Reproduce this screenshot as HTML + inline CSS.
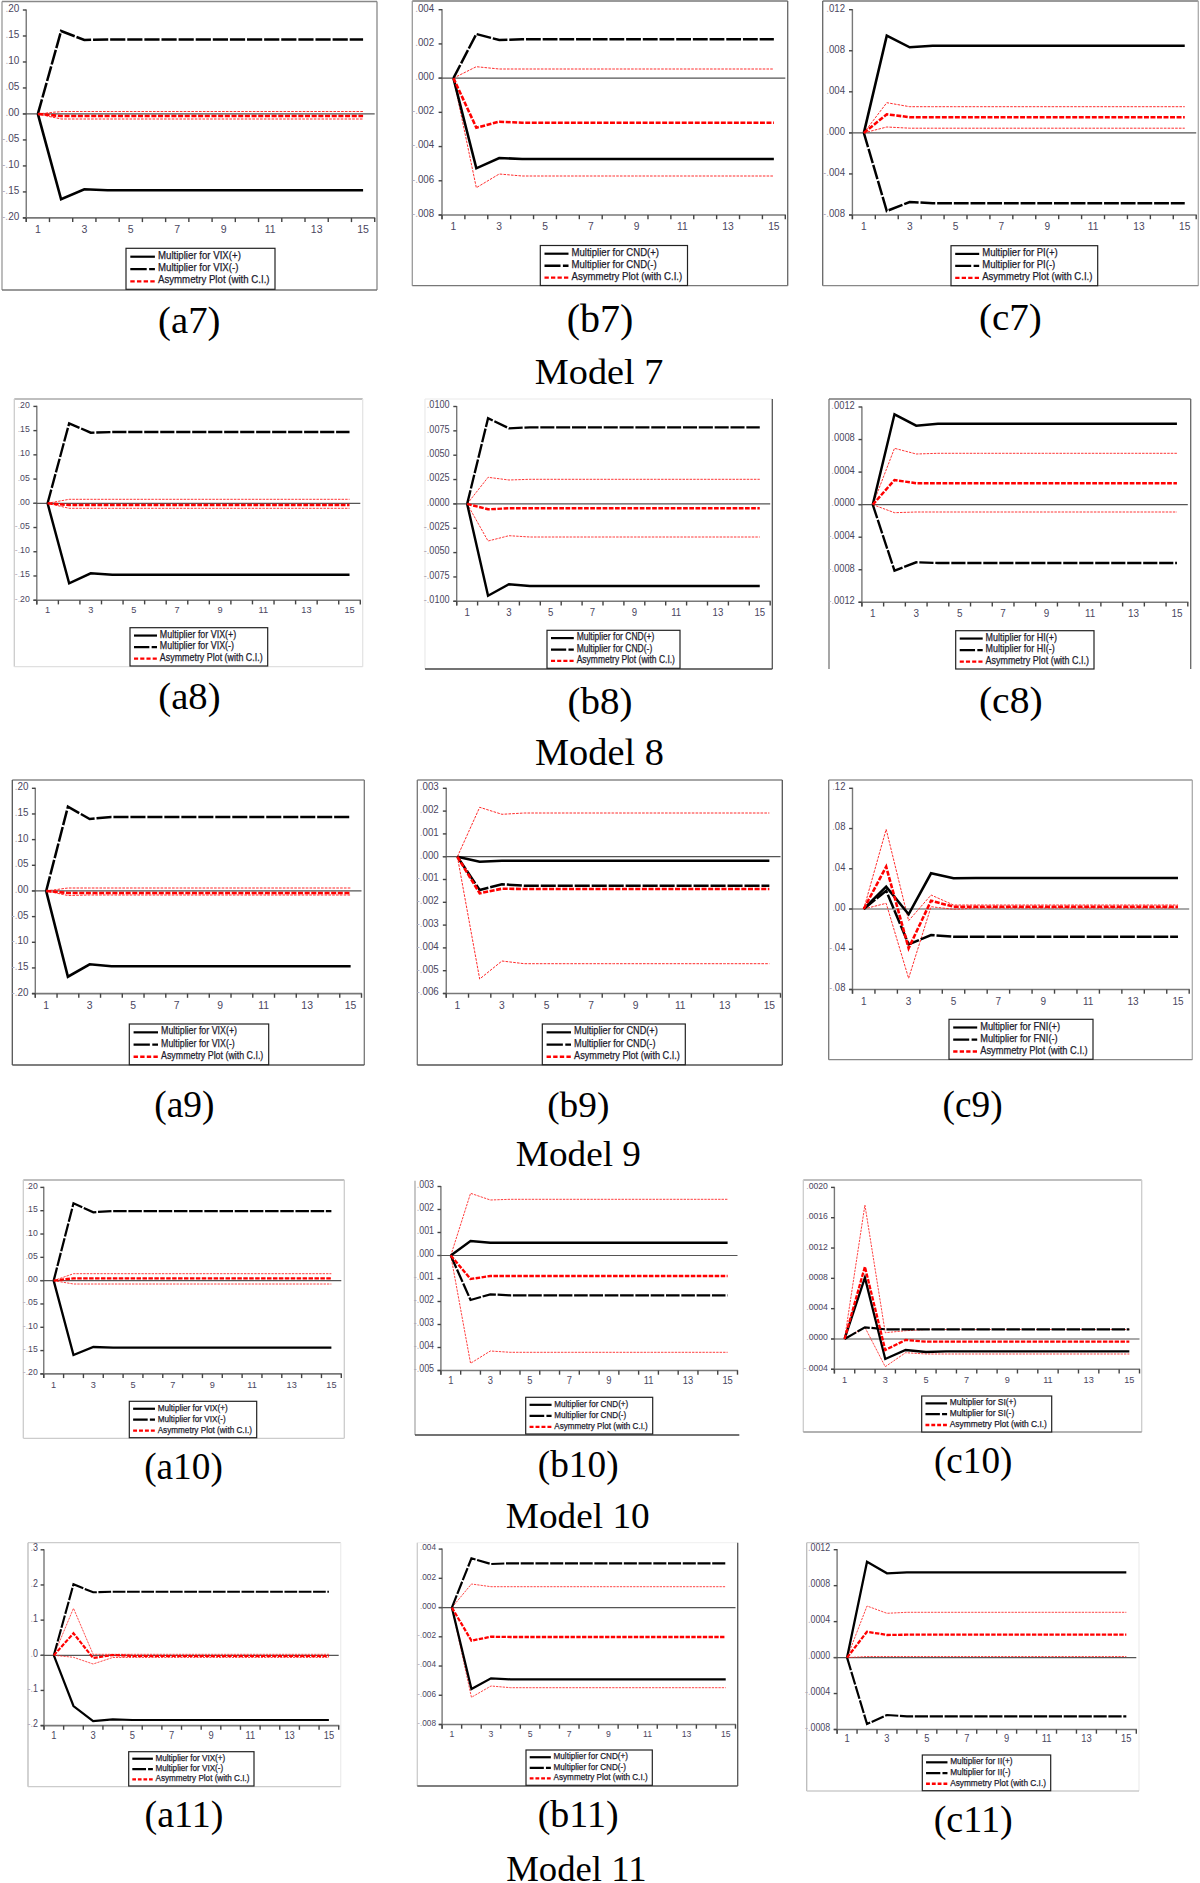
<!DOCTYPE html>
<html><head><meta charset="utf-8"><title>Asymmetry plots</title>
<style>
html,body{margin:0;padding:0;background:#fff;}
body{width:1200px;height:1883px;overflow:hidden;}
svg{display:block;}
.yl{font-family:"Liberation Sans",sans-serif;font-size:11.2px;fill:#4a4660;text-anchor:end;}
.xl{font-family:"Liberation Sans",sans-serif;font-size:11.2px;fill:#4a4660;text-anchor:middle;}
.lf{fill:#b0aab8;}
.lg{font-family:"Liberation Sans",sans-serif;fill:#1c1a2c;stroke:#1c1a2c;stroke-width:0.25px;}
.cap{font-family:"Liberation Serif",serif;font-size:37.5px;fill:#000;text-anchor:middle;}
</style></head>
<body>
<svg width="1200" height="1883" viewBox="0 0 1200 1883">
<rect width="1200" height="1883" fill="#fff"/>
<g id="a7">
<line x1="2" y1="1.5" x2="377" y2="1.5" stroke="#888" stroke-width="1.3"/>
<line x1="2" y1="1.5" x2="2" y2="290" stroke="#999" stroke-width="1.3"/>
<line x1="377" y1="1.5" x2="377" y2="290" stroke="#888" stroke-width="1.3"/>
<line x1="2" y1="290" x2="377" y2="290" stroke="#777" stroke-width="1.3"/>
<line x1="26.25" y1="9.4" x2="26.25" y2="222.1" stroke="#787878" stroke-width="1.4"/>
<line x1="22.85" y1="217.9" x2="375.3" y2="217.9" stroke="#787878" stroke-width="1.6"/>
<line x1="22.85" y1="10" x2="26.25" y2="10" stroke="#444444" stroke-width="1.4"/>
<text transform="translate(19.25 12) scale(0.88 1)" class="yl" style="font-size:11.348px"><tspan class="lf">.</tspan>20</text>
<line x1="22.85" y1="35.987" x2="26.25" y2="35.987" stroke="#444444" stroke-width="1.4"/>
<text transform="translate(19.25 37.987) scale(0.88 1)" class="yl" style="font-size:11.348px"><tspan class="lf">.</tspan>15</text>
<line x1="22.85" y1="61.975" x2="26.25" y2="61.975" stroke="#444444" stroke-width="1.4"/>
<text transform="translate(19.25 63.975) scale(0.88 1)" class="yl" style="font-size:11.348px"><tspan class="lf">.</tspan>10</text>
<line x1="22.85" y1="87.963" x2="26.25" y2="87.963" stroke="#444444" stroke-width="1.4"/>
<text transform="translate(19.25 89.963) scale(0.88 1)" class="yl" style="font-size:11.348px"><tspan class="lf">.</tspan>05</text>
<line x1="22.85" y1="113.95" x2="26.25" y2="113.95" stroke="#444444" stroke-width="1.4"/>
<text transform="translate(19.25 115.95) scale(0.88 1)" class="yl" style="font-size:11.348px"><tspan class="lf">.</tspan>00</text>
<line x1="22.85" y1="139.938" x2="26.25" y2="139.938" stroke="#444444" stroke-width="1.4"/>
<text transform="translate(19.25 141.938) scale(0.88 1)" class="yl" style="font-size:11.348px"><tspan class="lf">-.</tspan>05</text>
<line x1="22.85" y1="165.925" x2="26.25" y2="165.925" stroke="#444444" stroke-width="1.4"/>
<text transform="translate(19.25 167.925) scale(0.88 1)" class="yl" style="font-size:11.348px"><tspan class="lf">-.</tspan>10</text>
<line x1="22.85" y1="191.912" x2="26.25" y2="191.912" stroke="#444444" stroke-width="1.4"/>
<text transform="translate(19.25 193.912) scale(0.88 1)" class="yl" style="font-size:11.348px"><tspan class="lf">-.</tspan>15</text>
<line x1="22.85" y1="217.9" x2="26.25" y2="217.9" stroke="#444444" stroke-width="1.4"/>
<text transform="translate(19.25 219.9) scale(0.88 1)" class="yl" style="font-size:11.348px"><tspan class="lf">-.</tspan>20</text>
<line x1="26.25" y1="217.9" x2="26.25" y2="222.1" stroke="#444444" stroke-width="1.4"/>
<line x1="49.48" y1="217.9" x2="49.48" y2="222.1" stroke="#444444" stroke-width="1.4"/>
<line x1="72.71" y1="217.9" x2="72.71" y2="222.1" stroke="#444444" stroke-width="1.4"/>
<line x1="95.94" y1="217.9" x2="95.94" y2="222.1" stroke="#444444" stroke-width="1.4"/>
<line x1="119.17" y1="217.9" x2="119.17" y2="222.1" stroke="#444444" stroke-width="1.4"/>
<line x1="142.4" y1="217.9" x2="142.4" y2="222.1" stroke="#444444" stroke-width="1.4"/>
<line x1="165.63" y1="217.9" x2="165.63" y2="222.1" stroke="#444444" stroke-width="1.4"/>
<line x1="188.86" y1="217.9" x2="188.86" y2="222.1" stroke="#444444" stroke-width="1.4"/>
<line x1="212.09" y1="217.9" x2="212.09" y2="222.1" stroke="#444444" stroke-width="1.4"/>
<line x1="235.32" y1="217.9" x2="235.32" y2="222.1" stroke="#444444" stroke-width="1.4"/>
<line x1="258.55" y1="217.9" x2="258.55" y2="222.1" stroke="#444444" stroke-width="1.4"/>
<line x1="281.78" y1="217.9" x2="281.78" y2="222.1" stroke="#444444" stroke-width="1.4"/>
<line x1="305.01" y1="217.9" x2="305.01" y2="222.1" stroke="#444444" stroke-width="1.4"/>
<line x1="328.24" y1="217.9" x2="328.24" y2="222.1" stroke="#444444" stroke-width="1.4"/>
<line x1="351.47" y1="217.9" x2="351.47" y2="222.1" stroke="#444444" stroke-width="1.4"/>
<line x1="374.7" y1="217.9" x2="374.7" y2="222.1" stroke="#444444" stroke-width="1.4"/>
<text transform="translate(37.865 233) scale(0.93 1)" class="xl" style="font-size:11.348px">1</text>
<text transform="translate(84.325 233) scale(0.93 1)" class="xl" style="font-size:11.348px">3</text>
<text transform="translate(130.785 233) scale(0.93 1)" class="xl" style="font-size:11.348px">5</text>
<text transform="translate(177.245 233) scale(0.93 1)" class="xl" style="font-size:11.348px">7</text>
<text transform="translate(223.705 233) scale(0.93 1)" class="xl" style="font-size:11.348px">9</text>
<text transform="translate(270.165 233) scale(0.93 1)" class="xl" style="font-size:11.348px">11</text>
<text transform="translate(316.625 233) scale(0.93 1)" class="xl" style="font-size:11.348px">13</text>
<text transform="translate(363.085 233) scale(0.93 1)" class="xl" style="font-size:11.348px">15</text>
<line x1="22.85" y1="113.95" x2="374.7" y2="113.95" stroke="#555555" stroke-width="1.2"/>
<polyline points="37.865,113.95 61.095,111.5 84.325,111.5 107.555,111.5 130.785,111.5 154.015,111.5 177.245,111.5 200.475,111.5 223.705,111.5 246.935,111.5 270.165,111.5 293.395,111.5 316.625,111.5 339.855,111.5 363.085,111.5" stroke="#ff2a2a" stroke-width="1.01" fill="none" stroke-dasharray="2.63 1.21"/>
<polyline points="37.865,113.95 61.095,119 84.325,119 107.555,119 130.785,119 154.015,119 177.245,119 200.475,119 223.705,119 246.935,119 270.165,119 293.395,119 316.625,119 339.855,119 363.085,119" stroke="#ff2a2a" stroke-width="1.01" fill="none" stroke-dasharray="2.63 1.21"/>
<polyline points="37.865,113.95 61.095,199.3 84.325,189.3 107.555,190.3 130.785,190.3 154.015,190.3 177.245,190.3 200.475,190.3 223.705,190.3 246.935,190.3 270.165,190.3 293.395,190.3 316.625,190.3 339.855,190.3 363.085,190.3" stroke="#000" stroke-width="2.63" fill="none"/>
<polyline points="37.865,113.95 61.095,31 84.325,40 107.555,39.5 130.785,39.5 154.015,39.5 177.245,39.5 200.475,39.5 223.705,39.5 246.935,39.5 270.165,39.5 293.395,39.5 316.625,39.5 339.855,39.5 363.085,39.5" stroke="#000" stroke-width="2.53" fill="none" stroke-dasharray="15.19 1.92"/>
<polyline points="37.865,113.95 61.095,116 84.325,116 107.555,116 130.785,116 154.015,116 177.245,116 200.475,116 223.705,116 246.935,116 270.165,116 293.395,116 316.625,116 339.855,116 363.085,116" stroke="#f00" stroke-width="2.63" fill="none" stroke-dasharray="5.06 1.62"/>
<rect x="126" y="248.3" width="149" height="41" fill="#fff" stroke="#222" stroke-width="1.2"/>
<line x1="130.305" y1="256.705" x2="154.905" y2="256.705" stroke="#000" stroke-width="2.2"/>
<text x="157.98" y="258.857" class="lg" style="font-size:10.865px" textLength="82.899" lengthAdjust="spacingAndGlyphs">Multiplier for VIX(+)</text>
<line x1="130.305" y1="269.046" x2="154.905" y2="269.046" stroke="#000" stroke-width="2.3" stroke-dasharray="16.4 2.46 10.25"/>
<text x="157.98" y="271.198" class="lg" style="font-size:10.865px" textLength="80.474" lengthAdjust="spacingAndGlyphs">Multiplier for VIX(-)</text>
<line x1="130.305" y1="281.305" x2="154.905" y2="281.305" stroke="#f00" stroke-width="2.3" stroke-dasharray="4.407 2.255"/>
<text x="157.98" y="283.457" class="lg" style="font-size:10.865px" textLength="111.588" lengthAdjust="spacingAndGlyphs">Asymmetry Plot (with C.I.)</text>
</g>
<g id="b7">
<line x1="412.3" y1="1" x2="787.7" y2="1" stroke="#777" stroke-width="1.3"/>
<line x1="412.3" y1="1" x2="412.3" y2="285.7" stroke="#999" stroke-width="1.3"/>
<line x1="787.7" y1="1" x2="787.7" y2="285.7" stroke="#666" stroke-width="1.3"/>
<line x1="412.3" y1="285.7" x2="787.7" y2="285.7" stroke="#777" stroke-width="1.3"/>
<line x1="442" y1="9.1" x2="442" y2="219.2" stroke="#787878" stroke-width="1.4"/>
<line x1="438.6" y1="215" x2="785.9" y2="215" stroke="#787878" stroke-width="1.6"/>
<line x1="438.6" y1="9.7" x2="442" y2="9.7" stroke="#444444" stroke-width="1.4"/>
<text transform="translate(434.2 11.6) scale(0.88 1)" class="yl" style="font-size:11.064px"><tspan class="lf">.</tspan>004</text>
<line x1="438.6" y1="43.917" x2="442" y2="43.917" stroke="#444444" stroke-width="1.4"/>
<text transform="translate(434.2 45.817) scale(0.88 1)" class="yl" style="font-size:11.064px"><tspan class="lf">.</tspan>002</text>
<line x1="438.6" y1="78.133" x2="442" y2="78.133" stroke="#444444" stroke-width="1.4"/>
<text transform="translate(434.2 80.033) scale(0.88 1)" class="yl" style="font-size:11.064px"><tspan class="lf">.</tspan>000</text>
<line x1="438.6" y1="112.35" x2="442" y2="112.35" stroke="#444444" stroke-width="1.4"/>
<text transform="translate(434.2 114.25) scale(0.88 1)" class="yl" style="font-size:11.064px"><tspan class="lf">-.</tspan>002</text>
<line x1="438.6" y1="146.567" x2="442" y2="146.567" stroke="#444444" stroke-width="1.4"/>
<text transform="translate(434.2 148.467) scale(0.88 1)" class="yl" style="font-size:11.064px"><tspan class="lf">-.</tspan>004</text>
<line x1="438.6" y1="180.783" x2="442" y2="180.783" stroke="#444444" stroke-width="1.4"/>
<text transform="translate(434.2 182.683) scale(0.88 1)" class="yl" style="font-size:11.064px"><tspan class="lf">-.</tspan>006</text>
<line x1="438.6" y1="215" x2="442" y2="215" stroke="#444444" stroke-width="1.4"/>
<text transform="translate(434.2 216.9) scale(0.88 1)" class="yl" style="font-size:11.064px"><tspan class="lf">-.</tspan>008</text>
<line x1="442" y1="215" x2="442" y2="219.2" stroke="#444444" stroke-width="1.4"/>
<line x1="464.887" y1="215" x2="464.887" y2="219.2" stroke="#444444" stroke-width="1.4"/>
<line x1="487.773" y1="215" x2="487.773" y2="219.2" stroke="#444444" stroke-width="1.4"/>
<line x1="510.66" y1="215" x2="510.66" y2="219.2" stroke="#444444" stroke-width="1.4"/>
<line x1="533.547" y1="215" x2="533.547" y2="219.2" stroke="#444444" stroke-width="1.4"/>
<line x1="556.433" y1="215" x2="556.433" y2="219.2" stroke="#444444" stroke-width="1.4"/>
<line x1="579.32" y1="215" x2="579.32" y2="219.2" stroke="#444444" stroke-width="1.4"/>
<line x1="602.207" y1="215" x2="602.207" y2="219.2" stroke="#444444" stroke-width="1.4"/>
<line x1="625.093" y1="215" x2="625.093" y2="219.2" stroke="#444444" stroke-width="1.4"/>
<line x1="647.98" y1="215" x2="647.98" y2="219.2" stroke="#444444" stroke-width="1.4"/>
<line x1="670.867" y1="215" x2="670.867" y2="219.2" stroke="#444444" stroke-width="1.4"/>
<line x1="693.753" y1="215" x2="693.753" y2="219.2" stroke="#444444" stroke-width="1.4"/>
<line x1="716.64" y1="215" x2="716.64" y2="219.2" stroke="#444444" stroke-width="1.4"/>
<line x1="739.527" y1="215" x2="739.527" y2="219.2" stroke="#444444" stroke-width="1.4"/>
<line x1="762.413" y1="215" x2="762.413" y2="219.2" stroke="#444444" stroke-width="1.4"/>
<line x1="785.3" y1="215" x2="785.3" y2="219.2" stroke="#444444" stroke-width="1.4"/>
<text transform="translate(453.443 229.8) scale(0.93 1)" class="xl" style="font-size:11.064px">1</text>
<text transform="translate(499.217 229.8) scale(0.93 1)" class="xl" style="font-size:11.064px">3</text>
<text transform="translate(544.99 229.8) scale(0.93 1)" class="xl" style="font-size:11.064px">5</text>
<text transform="translate(590.763 229.8) scale(0.93 1)" class="xl" style="font-size:11.064px">7</text>
<text transform="translate(636.537 229.8) scale(0.93 1)" class="xl" style="font-size:11.064px">9</text>
<text transform="translate(682.31 229.8) scale(0.93 1)" class="xl" style="font-size:11.064px">11</text>
<text transform="translate(728.083 229.8) scale(0.93 1)" class="xl" style="font-size:11.064px">13</text>
<text transform="translate(773.857 229.8) scale(0.93 1)" class="xl" style="font-size:11.064px">15</text>
<line x1="438.6" y1="78.133" x2="785.3" y2="78.133" stroke="#555555" stroke-width="1.2"/>
<polyline points="453.443,78.133 476.33,66.7 499.217,69 522.103,69 544.99,69 567.877,69 590.763,69 613.65,69 636.537,69 659.423,69 682.31,69 705.197,69 728.083,69 750.97,69 773.857,69" stroke="#ff2a2a" stroke-width="0.99" fill="none" stroke-dasharray="2.57 1.19"/>
<polyline points="453.443,78.133 476.33,187.7 499.217,174 522.103,176 544.99,176 567.877,176 590.763,176 613.65,176 636.537,176 659.423,176 682.31,176 705.197,176 728.083,176 750.97,176 773.857,176" stroke="#ff2a2a" stroke-width="0.99" fill="none" stroke-dasharray="2.57 1.19"/>
<polyline points="453.443,78.133 476.33,168.3 499.217,158 522.103,159 544.99,159 567.877,159 590.763,159 613.65,159 636.537,159 659.423,159 682.31,159 705.197,159 728.083,159 750.97,159 773.857,159" stroke="#000" stroke-width="2.57" fill="none"/>
<polyline points="453.443,78.133 476.33,34 499.217,40 522.103,39.3 544.99,39.3 567.877,39.3 590.763,39.3 613.65,39.3 636.537,39.3 659.423,39.3 682.31,39.3 705.197,39.3 728.083,39.3 750.97,39.3 773.857,39.3" stroke="#000" stroke-width="2.47" fill="none" stroke-dasharray="14.81 1.88"/>
<polyline points="453.443,78.133 476.33,127.7 499.217,121.7 522.103,122.7 544.99,122.7 567.877,122.7 590.763,122.7 613.65,122.7 636.537,122.7 659.423,122.7 682.31,122.7 705.197,122.7 728.083,122.7 750.97,122.7 773.857,122.7" stroke="#f00" stroke-width="2.57" fill="none" stroke-dasharray="4.94 1.58"/>
<rect x="540.3" y="245.5" width="147.2" height="40" fill="#fff" stroke="#222" stroke-width="1.2"/>
<line x1="544.5" y1="253.7" x2="568.5" y2="253.7" stroke="#000" stroke-width="2.2"/>
<text x="571.5" y="255.8" class="lg" style="font-size:10.6px" textLength="87.553" lengthAdjust="spacingAndGlyphs">Multiplier for CND(+)</text>
<line x1="544.5" y1="265.74" x2="568.5" y2="265.74" stroke="#000" stroke-width="2.3" stroke-dasharray="16 2.4 10"/>
<text x="571.5" y="267.84" class="lg" style="font-size:10.6px" textLength="85.147" lengthAdjust="spacingAndGlyphs">Multiplier for CND(-)</text>
<line x1="544.5" y1="277.7" x2="568.5" y2="277.7" stroke="#f00" stroke-width="2.3" stroke-dasharray="4.3 2.2"/>
<text x="571.5" y="279.8" class="lg" style="font-size:10.6px" textLength="110.7" lengthAdjust="spacingAndGlyphs">Asymmetry Plot (with C.I.)</text>
</g>
<g id="c7">
<line x1="822.7" y1="1" x2="1198.3" y2="1" stroke="#777" stroke-width="1.3"/>
<line x1="822.7" y1="1" x2="822.7" y2="285.7" stroke="#666" stroke-width="1.3"/>
<line x1="1198.3" y1="1" x2="1198.3" y2="285.7" stroke="#aaa" stroke-width="1.3"/>
<line x1="822.7" y1="285.7" x2="1198.3" y2="285.7" stroke="#888" stroke-width="1.3"/>
<line x1="852.4" y1="9.1" x2="852.4" y2="219.2" stroke="#787878" stroke-width="1.4"/>
<line x1="849" y1="215" x2="1196.8" y2="215" stroke="#787878" stroke-width="1.6"/>
<line x1="849" y1="9.7" x2="852.4" y2="9.7" stroke="#444444" stroke-width="1.4"/>
<text transform="translate(845 11.55) scale(0.88 1)" class="yl" style="font-size:10.922px"><tspan class="lf">.</tspan>012</text>
<line x1="849" y1="50.76" x2="852.4" y2="50.76" stroke="#444444" stroke-width="1.4"/>
<text transform="translate(845 52.61) scale(0.88 1)" class="yl" style="font-size:10.922px"><tspan class="lf">.</tspan>008</text>
<line x1="849" y1="91.82" x2="852.4" y2="91.82" stroke="#444444" stroke-width="1.4"/>
<text transform="translate(845 93.67) scale(0.88 1)" class="yl" style="font-size:10.922px"><tspan class="lf">.</tspan>004</text>
<line x1="849" y1="132.88" x2="852.4" y2="132.88" stroke="#444444" stroke-width="1.4"/>
<text transform="translate(845 134.73) scale(0.88 1)" class="yl" style="font-size:10.922px"><tspan class="lf">.</tspan>000</text>
<line x1="849" y1="173.94" x2="852.4" y2="173.94" stroke="#444444" stroke-width="1.4"/>
<text transform="translate(845 175.79) scale(0.88 1)" class="yl" style="font-size:10.922px"><tspan class="lf">-.</tspan>004</text>
<line x1="849" y1="215" x2="852.4" y2="215" stroke="#444444" stroke-width="1.4"/>
<text transform="translate(845 216.85) scale(0.88 1)" class="yl" style="font-size:10.922px"><tspan class="lf">-.</tspan>008</text>
<line x1="852.4" y1="215" x2="852.4" y2="219.2" stroke="#444444" stroke-width="1.4"/>
<line x1="875.32" y1="215" x2="875.32" y2="219.2" stroke="#444444" stroke-width="1.4"/>
<line x1="898.24" y1="215" x2="898.24" y2="219.2" stroke="#444444" stroke-width="1.4"/>
<line x1="921.16" y1="215" x2="921.16" y2="219.2" stroke="#444444" stroke-width="1.4"/>
<line x1="944.08" y1="215" x2="944.08" y2="219.2" stroke="#444444" stroke-width="1.4"/>
<line x1="967" y1="215" x2="967" y2="219.2" stroke="#444444" stroke-width="1.4"/>
<line x1="989.92" y1="215" x2="989.92" y2="219.2" stroke="#444444" stroke-width="1.4"/>
<line x1="1012.84" y1="215" x2="1012.84" y2="219.2" stroke="#444444" stroke-width="1.4"/>
<line x1="1035.76" y1="215" x2="1035.76" y2="219.2" stroke="#444444" stroke-width="1.4"/>
<line x1="1058.68" y1="215" x2="1058.68" y2="219.2" stroke="#444444" stroke-width="1.4"/>
<line x1="1081.6" y1="215" x2="1081.6" y2="219.2" stroke="#444444" stroke-width="1.4"/>
<line x1="1104.52" y1="215" x2="1104.52" y2="219.2" stroke="#444444" stroke-width="1.4"/>
<line x1="1127.44" y1="215" x2="1127.44" y2="219.2" stroke="#444444" stroke-width="1.4"/>
<line x1="1150.36" y1="215" x2="1150.36" y2="219.2" stroke="#444444" stroke-width="1.4"/>
<line x1="1173.28" y1="215" x2="1173.28" y2="219.2" stroke="#444444" stroke-width="1.4"/>
<line x1="1196.2" y1="215" x2="1196.2" y2="219.2" stroke="#444444" stroke-width="1.4"/>
<text transform="translate(863.86 229.8) scale(0.93 1)" class="xl" style="font-size:10.922px">1</text>
<text transform="translate(909.7 229.8) scale(0.93 1)" class="xl" style="font-size:10.922px">3</text>
<text transform="translate(955.54 229.8) scale(0.93 1)" class="xl" style="font-size:10.922px">5</text>
<text transform="translate(1001.38 229.8) scale(0.93 1)" class="xl" style="font-size:10.922px">7</text>
<text transform="translate(1047.22 229.8) scale(0.93 1)" class="xl" style="font-size:10.922px">9</text>
<text transform="translate(1093.06 229.8) scale(0.93 1)" class="xl" style="font-size:10.922px">11</text>
<text transform="translate(1138.9 229.8) scale(0.93 1)" class="xl" style="font-size:10.922px">13</text>
<text transform="translate(1184.74 229.8) scale(0.93 1)" class="xl" style="font-size:10.922px">15</text>
<line x1="849" y1="132.88" x2="1196.2" y2="132.88" stroke="#555555" stroke-width="1.2"/>
<polyline points="863.86,132.88 886.78,102.7 909.7,106.7 932.62,106.7 955.54,106.7 978.46,106.7 1001.38,106.7 1024.3,106.7 1047.22,106.7 1070.14,106.7 1093.06,106.7 1115.98,106.7 1138.9,106.7 1161.82,106.7 1184.74,106.7" stroke="#ff2a2a" stroke-width="0.99" fill="none" stroke-dasharray="2.57 1.19"/>
<polyline points="863.86,132.88 886.78,127 909.7,128.2 932.62,128.2 955.54,128.2 978.46,128.2 1001.38,128.2 1024.3,128.2 1047.22,128.2 1070.14,128.2 1093.06,128.2 1115.98,128.2 1138.9,128.2 1161.82,128.2 1184.74,128.2" stroke="#ff2a2a" stroke-width="0.99" fill="none" stroke-dasharray="2.57 1.19"/>
<polyline points="863.86,132.88 886.78,35.7 909.7,47.3 932.62,45.8 955.54,45.8 978.46,45.8 1001.38,45.8 1024.3,45.8 1047.22,45.8 1070.14,45.8 1093.06,45.8 1115.98,45.8 1138.9,45.8 1161.82,45.8 1184.74,45.8" stroke="#000" stroke-width="2.57" fill="none"/>
<polyline points="863.86,132.88 886.78,211 909.7,202 932.62,203.2 955.54,203.2 978.46,203.2 1001.38,203.2 1024.3,203.2 1047.22,203.2 1070.14,203.2 1093.06,203.2 1115.98,203.2 1138.9,203.2 1161.82,203.2 1184.74,203.2" stroke="#000" stroke-width="2.47" fill="none" stroke-dasharray="14.81 1.88"/>
<polyline points="863.86,132.88 886.78,114.3 909.7,117.2 932.62,117.2 955.54,117.2 978.46,117.2 1001.38,117.2 1024.3,117.2 1047.22,117.2 1070.14,117.2 1093.06,117.2 1115.98,117.2 1138.9,117.2 1161.82,117.2 1184.74,117.2" stroke="#f00" stroke-width="2.57" fill="none" stroke-dasharray="4.94 1.58"/>
<rect x="951" y="245.7" width="146.7" height="40" fill="#fff" stroke="#222" stroke-width="1.2"/>
<line x1="955.2" y1="253.9" x2="979.2" y2="253.9" stroke="#000" stroke-width="2.2"/>
<text x="982.2" y="256" class="lg" style="font-size:10.6px" textLength="75.507" lengthAdjust="spacingAndGlyphs">Multiplier for PI(+)</text>
<line x1="955.2" y1="265.94" x2="979.2" y2="265.94" stroke="#000" stroke-width="2.3" stroke-dasharray="16 2.4 10"/>
<text x="982.2" y="268.04" class="lg" style="font-size:10.6px" textLength="73.113" lengthAdjust="spacingAndGlyphs">Multiplier for PI(-)</text>
<line x1="955.2" y1="277.9" x2="979.2" y2="277.9" stroke="#f00" stroke-width="2.3" stroke-dasharray="4.3 2.2"/>
<text x="982.2" y="280" class="lg" style="font-size:10.6px" textLength="110.2" lengthAdjust="spacingAndGlyphs">Asymmetry Plot (with C.I.)</text>
</g>
<g id="a8">
<line x1="14.3" y1="399" x2="362.7" y2="399" stroke="#aaa" stroke-width="1.3"/>
<line x1="14.3" y1="399" x2="14.3" y2="666.7" stroke="#ccc" stroke-width="1.3"/>
<line x1="362.7" y1="399" x2="362.7" y2="666.7" stroke="#e4e4e4" stroke-width="1.3"/>
<line x1="14.3" y1="666.7" x2="362.7" y2="666.7" stroke="#e0e0e0" stroke-width="1.3"/>
<line x1="36.8" y1="405.8" x2="36.8" y2="604.4" stroke="#787878" stroke-width="1.4"/>
<line x1="33.4" y1="600.2" x2="360.9" y2="600.2" stroke="#787878" stroke-width="1.6"/>
<line x1="33.4" y1="406.4" x2="36.8" y2="406.4" stroke="#444444" stroke-width="1.4"/>
<text transform="translate(29.8 407.9) scale(0.88 1)" class="yl" style="font-size:9.929px"><tspan class="lf">.</tspan>20</text>
<line x1="33.4" y1="430.625" x2="36.8" y2="430.625" stroke="#444444" stroke-width="1.4"/>
<text transform="translate(29.8 432.125) scale(0.88 1)" class="yl" style="font-size:9.929px"><tspan class="lf">.</tspan>15</text>
<line x1="33.4" y1="454.85" x2="36.8" y2="454.85" stroke="#444444" stroke-width="1.4"/>
<text transform="translate(29.8 456.35) scale(0.88 1)" class="yl" style="font-size:9.929px"><tspan class="lf">.</tspan>10</text>
<line x1="33.4" y1="479.075" x2="36.8" y2="479.075" stroke="#444444" stroke-width="1.4"/>
<text transform="translate(29.8 480.575) scale(0.88 1)" class="yl" style="font-size:9.929px"><tspan class="lf">.</tspan>05</text>
<line x1="33.4" y1="503.3" x2="36.8" y2="503.3" stroke="#444444" stroke-width="1.4"/>
<text transform="translate(29.8 504.8) scale(0.88 1)" class="yl" style="font-size:9.929px"><tspan class="lf">.</tspan>00</text>
<line x1="33.4" y1="527.525" x2="36.8" y2="527.525" stroke="#444444" stroke-width="1.4"/>
<text transform="translate(29.8 529.025) scale(0.88 1)" class="yl" style="font-size:9.929px"><tspan class="lf">-.</tspan>05</text>
<line x1="33.4" y1="551.75" x2="36.8" y2="551.75" stroke="#444444" stroke-width="1.4"/>
<text transform="translate(29.8 553.25) scale(0.88 1)" class="yl" style="font-size:9.929px"><tspan class="lf">-.</tspan>10</text>
<line x1="33.4" y1="575.975" x2="36.8" y2="575.975" stroke="#444444" stroke-width="1.4"/>
<text transform="translate(29.8 577.475) scale(0.88 1)" class="yl" style="font-size:9.929px"><tspan class="lf">-.</tspan>15</text>
<line x1="33.4" y1="600.2" x2="36.8" y2="600.2" stroke="#444444" stroke-width="1.4"/>
<text transform="translate(29.8 601.7) scale(0.88 1)" class="yl" style="font-size:9.929px"><tspan class="lf">-.</tspan>20</text>
<line x1="36.8" y1="600.2" x2="36.8" y2="604.4" stroke="#444444" stroke-width="1.4"/>
<line x1="58.367" y1="600.2" x2="58.367" y2="604.4" stroke="#444444" stroke-width="1.4"/>
<line x1="79.933" y1="600.2" x2="79.933" y2="604.4" stroke="#444444" stroke-width="1.4"/>
<line x1="101.5" y1="600.2" x2="101.5" y2="604.4" stroke="#444444" stroke-width="1.4"/>
<line x1="123.067" y1="600.2" x2="123.067" y2="604.4" stroke="#444444" stroke-width="1.4"/>
<line x1="144.633" y1="600.2" x2="144.633" y2="604.4" stroke="#444444" stroke-width="1.4"/>
<line x1="166.2" y1="600.2" x2="166.2" y2="604.4" stroke="#444444" stroke-width="1.4"/>
<line x1="187.767" y1="600.2" x2="187.767" y2="604.4" stroke="#444444" stroke-width="1.4"/>
<line x1="209.333" y1="600.2" x2="209.333" y2="604.4" stroke="#444444" stroke-width="1.4"/>
<line x1="230.9" y1="600.2" x2="230.9" y2="604.4" stroke="#444444" stroke-width="1.4"/>
<line x1="252.467" y1="600.2" x2="252.467" y2="604.4" stroke="#444444" stroke-width="1.4"/>
<line x1="274.033" y1="600.2" x2="274.033" y2="604.4" stroke="#444444" stroke-width="1.4"/>
<line x1="295.6" y1="600.2" x2="295.6" y2="604.4" stroke="#444444" stroke-width="1.4"/>
<line x1="317.167" y1="600.2" x2="317.167" y2="604.4" stroke="#444444" stroke-width="1.4"/>
<line x1="338.733" y1="600.2" x2="338.733" y2="604.4" stroke="#444444" stroke-width="1.4"/>
<line x1="360.3" y1="600.2" x2="360.3" y2="604.4" stroke="#444444" stroke-width="1.4"/>
<text transform="translate(47.583 613) scale(0.93 1)" class="xl" style="font-size:9.929px">1</text>
<text transform="translate(90.717 613) scale(0.93 1)" class="xl" style="font-size:9.929px">3</text>
<text transform="translate(133.85 613) scale(0.93 1)" class="xl" style="font-size:9.929px">5</text>
<text transform="translate(176.983 613) scale(0.93 1)" class="xl" style="font-size:9.929px">7</text>
<text transform="translate(220.117 613) scale(0.93 1)" class="xl" style="font-size:9.929px">9</text>
<text transform="translate(263.25 613) scale(0.93 1)" class="xl" style="font-size:9.929px">11</text>
<text transform="translate(306.383 613) scale(0.93 1)" class="xl" style="font-size:9.929px">13</text>
<text transform="translate(349.517 613) scale(0.93 1)" class="xl" style="font-size:9.929px">15</text>
<line x1="33.4" y1="503.3" x2="360.3" y2="503.3" stroke="#555555" stroke-width="1.2"/>
<polyline points="47.583,503.3 69.15,499.3 90.717,499.3 112.283,499.3 133.85,499.3 155.417,499.3 176.983,499.3 198.55,499.3 220.117,499.3 241.683,499.3 263.25,499.3 284.817,499.3 306.383,499.3 327.95,499.3 349.517,499.3" stroke="#ff2a2a" stroke-width="0.95" fill="none" stroke-dasharray="2.46 1.13"/>
<polyline points="47.583,503.3 69.15,508.3 90.717,508.3 112.283,508.3 133.85,508.3 155.417,508.3 176.983,508.3 198.55,508.3 220.117,508.3 241.683,508.3 263.25,508.3 284.817,508.3 306.383,508.3 327.95,508.3 349.517,508.3" stroke="#ff2a2a" stroke-width="0.95" fill="none" stroke-dasharray="2.46 1.13"/>
<polyline points="47.583,503.3 69.15,583.3 90.717,573.3 112.283,574.7 133.85,574.7 155.417,574.7 176.983,574.7 198.55,574.7 220.117,574.7 241.683,574.7 263.25,574.7 284.817,574.7 306.383,574.7 327.95,574.7 349.517,574.7" stroke="#000" stroke-width="2.46" fill="none"/>
<polyline points="47.583,503.3 69.15,423.3 90.717,432.7 112.283,432 133.85,432 155.417,432 176.983,432 198.55,432 220.117,432 241.683,432 263.25,432 284.817,432 306.383,432 327.95,432 349.517,432" stroke="#000" stroke-width="2.36" fill="none" stroke-dasharray="14.19 1.80"/>
<polyline points="47.583,503.3 69.15,505 90.717,505 112.283,505 133.85,505 155.417,505 176.983,505 198.55,505 220.117,505 241.683,505 263.25,505 284.817,505 306.383,505 327.95,505 349.517,505" stroke="#f00" stroke-width="2.46" fill="none" stroke-dasharray="4.73 1.51"/>
<rect x="130" y="627.7" width="137.7" height="38.3" fill="#fff" stroke="#222" stroke-width="1.2"/>
<line x1="134.022" y1="635.552" x2="157.001" y2="635.552" stroke="#000" stroke-width="2.2"/>
<text x="159.874" y="637.562" class="lg" style="font-size:10.149px" textLength="76.334" lengthAdjust="spacingAndGlyphs">Multiplier for VIX(+)</text>
<line x1="134.022" y1="647.08" x2="157.001" y2="647.08" stroke="#000" stroke-width="2.3" stroke-dasharray="15.32 2.298 9.575"/>
<text x="159.874" y="649.091" class="lg" style="font-size:10.149px" textLength="74.101" lengthAdjust="spacingAndGlyphs">Multiplier for VIX(-)</text>
<line x1="134.022" y1="658.532" x2="157.001" y2="658.532" stroke="#f00" stroke-width="2.3" stroke-dasharray="4.117 2.106"/>
<text x="159.874" y="660.542" class="lg" style="font-size:10.149px" textLength="102.751" lengthAdjust="spacingAndGlyphs">Asymmetry Plot (with C.I.)</text>
</g>
<g id="b8">
<line x1="425" y1="399" x2="772.3" y2="399" stroke="#f0f0f0" stroke-width="1.3"/>
<line x1="425" y1="399" x2="425" y2="669" stroke="#ececec" stroke-width="1.3"/>
<line x1="772.3" y1="399" x2="772.3" y2="669" stroke="#555" stroke-width="1.3"/>
<line x1="425" y1="669" x2="772.3" y2="669" stroke="#444" stroke-width="1.3"/>
<line x1="456.7" y1="405.9" x2="456.7" y2="605.5" stroke="#787878" stroke-width="1.4"/>
<line x1="453.3" y1="601.3" x2="770.8" y2="601.3" stroke="#787878" stroke-width="1.6"/>
<line x1="453.3" y1="406.5" x2="456.7" y2="406.5" stroke="#444444" stroke-width="1.4"/>
<text transform="translate(449.6 408.15) scale(0.88 1)" class="yl" style="font-size:10.355px"><tspan class="lf">.</tspan>0100</text>
<line x1="453.3" y1="430.85" x2="456.7" y2="430.85" stroke="#444444" stroke-width="1.4"/>
<text transform="translate(449.6 432.5) scale(0.88 1)" class="yl" style="font-size:10.355px"><tspan class="lf">.</tspan>0075</text>
<line x1="453.3" y1="455.2" x2="456.7" y2="455.2" stroke="#444444" stroke-width="1.4"/>
<text transform="translate(449.6 456.85) scale(0.88 1)" class="yl" style="font-size:10.355px"><tspan class="lf">.</tspan>0050</text>
<line x1="453.3" y1="479.55" x2="456.7" y2="479.55" stroke="#444444" stroke-width="1.4"/>
<text transform="translate(449.6 481.2) scale(0.88 1)" class="yl" style="font-size:10.355px"><tspan class="lf">.</tspan>0025</text>
<line x1="453.3" y1="503.9" x2="456.7" y2="503.9" stroke="#444444" stroke-width="1.4"/>
<text transform="translate(449.6 505.55) scale(0.88 1)" class="yl" style="font-size:10.355px"><tspan class="lf">.</tspan>0000</text>
<line x1="453.3" y1="528.25" x2="456.7" y2="528.25" stroke="#444444" stroke-width="1.4"/>
<text transform="translate(449.6 529.9) scale(0.88 1)" class="yl" style="font-size:10.355px"><tspan class="lf">-.</tspan>0025</text>
<line x1="453.3" y1="552.6" x2="456.7" y2="552.6" stroke="#444444" stroke-width="1.4"/>
<text transform="translate(449.6 554.25) scale(0.88 1)" class="yl" style="font-size:10.355px"><tspan class="lf">-.</tspan>0050</text>
<line x1="453.3" y1="576.95" x2="456.7" y2="576.95" stroke="#444444" stroke-width="1.4"/>
<text transform="translate(449.6 578.6) scale(0.88 1)" class="yl" style="font-size:10.355px"><tspan class="lf">-.</tspan>0075</text>
<line x1="453.3" y1="601.3" x2="456.7" y2="601.3" stroke="#444444" stroke-width="1.4"/>
<text transform="translate(449.6 602.95) scale(0.88 1)" class="yl" style="font-size:10.355px"><tspan class="lf">-.</tspan>0100</text>
<line x1="456.7" y1="601.3" x2="456.7" y2="605.5" stroke="#444444" stroke-width="1.4"/>
<line x1="477.6" y1="601.3" x2="477.6" y2="605.5" stroke="#444444" stroke-width="1.4"/>
<line x1="498.5" y1="601.3" x2="498.5" y2="605.5" stroke="#444444" stroke-width="1.4"/>
<line x1="519.4" y1="601.3" x2="519.4" y2="605.5" stroke="#444444" stroke-width="1.4"/>
<line x1="540.3" y1="601.3" x2="540.3" y2="605.5" stroke="#444444" stroke-width="1.4"/>
<line x1="561.2" y1="601.3" x2="561.2" y2="605.5" stroke="#444444" stroke-width="1.4"/>
<line x1="582.1" y1="601.3" x2="582.1" y2="605.5" stroke="#444444" stroke-width="1.4"/>
<line x1="603" y1="601.3" x2="603" y2="605.5" stroke="#444444" stroke-width="1.4"/>
<line x1="623.9" y1="601.3" x2="623.9" y2="605.5" stroke="#444444" stroke-width="1.4"/>
<line x1="644.8" y1="601.3" x2="644.8" y2="605.5" stroke="#444444" stroke-width="1.4"/>
<line x1="665.7" y1="601.3" x2="665.7" y2="605.5" stroke="#444444" stroke-width="1.4"/>
<line x1="686.6" y1="601.3" x2="686.6" y2="605.5" stroke="#444444" stroke-width="1.4"/>
<line x1="707.5" y1="601.3" x2="707.5" y2="605.5" stroke="#444444" stroke-width="1.4"/>
<line x1="728.4" y1="601.3" x2="728.4" y2="605.5" stroke="#444444" stroke-width="1.4"/>
<line x1="749.3" y1="601.3" x2="749.3" y2="605.5" stroke="#444444" stroke-width="1.4"/>
<line x1="770.2" y1="601.3" x2="770.2" y2="605.5" stroke="#444444" stroke-width="1.4"/>
<text transform="translate(467.15 615.7) scale(0.93 1)" class="xl" style="font-size:10.355px">1</text>
<text transform="translate(508.95 615.7) scale(0.93 1)" class="xl" style="font-size:10.355px">3</text>
<text transform="translate(550.75 615.7) scale(0.93 1)" class="xl" style="font-size:10.355px">5</text>
<text transform="translate(592.55 615.7) scale(0.93 1)" class="xl" style="font-size:10.355px">7</text>
<text transform="translate(634.35 615.7) scale(0.93 1)" class="xl" style="font-size:10.355px">9</text>
<text transform="translate(676.15 615.7) scale(0.93 1)" class="xl" style="font-size:10.355px">11</text>
<text transform="translate(717.95 615.7) scale(0.93 1)" class="xl" style="font-size:10.355px">13</text>
<text transform="translate(759.75 615.7) scale(0.93 1)" class="xl" style="font-size:10.355px">15</text>
<line x1="453.3" y1="503.9" x2="770.2" y2="503.9" stroke="#555555" stroke-width="1.2"/>
<polyline points="467.15,503.9 488.05,477.3 508.95,480 529.85,479.3 550.75,479.3 571.65,479.3 592.55,479.3 613.45,479.3 634.35,479.3 655.25,479.3 676.15,479.3 697.05,479.3 717.95,479.3 738.85,479.3 759.75,479.3" stroke="#ff2a2a" stroke-width="0.94" fill="none" stroke-dasharray="2.44 1.13"/>
<polyline points="467.15,503.9 488.05,541 508.95,535.7 529.85,537 550.75,537 571.65,537 592.55,537 613.45,537 634.35,537 655.25,537 676.15,537 697.05,537 717.95,537 738.85,537 759.75,537" stroke="#ff2a2a" stroke-width="0.94" fill="none" stroke-dasharray="2.44 1.13"/>
<polyline points="467.15,503.9 488.05,595.7 508.95,584.3 529.85,586 550.75,586 571.65,586 592.55,586 613.45,586 634.35,586 655.25,586 676.15,586 697.05,586 717.95,586 738.85,586 759.75,586" stroke="#000" stroke-width="2.44" fill="none"/>
<polyline points="467.15,503.9 488.05,418.3 508.95,428.3 529.85,427.3 550.75,427.3 571.65,427.3 592.55,427.3 613.45,427.3 634.35,427.3 655.25,427.3 676.15,427.3 697.05,427.3 717.95,427.3 738.85,427.3 759.75,427.3" stroke="#000" stroke-width="2.35" fill="none" stroke-dasharray="14.07 1.78"/>
<polyline points="467.15,503.9 488.05,509.3 508.95,508.3 529.85,508.3 550.75,508.3 571.65,508.3 592.55,508.3 613.45,508.3 634.35,508.3 655.25,508.3 676.15,508.3 697.05,508.3 717.95,508.3 738.85,508.3 759.75,508.3" stroke="#f00" stroke-width="2.44" fill="none" stroke-dasharray="4.69 1.50"/>
<rect x="547" y="630.3" width="133" height="38" fill="#fff" stroke="#222" stroke-width="1.2"/>
<line x1="550.99" y1="638.09" x2="573.79" y2="638.09" stroke="#000" stroke-width="2.2"/>
<text x="576.64" y="640.085" class="lg" style="font-size:10.07px" textLength="77.765" lengthAdjust="spacingAndGlyphs">Multiplier for CND(+)</text>
<line x1="550.99" y1="649.528" x2="573.79" y2="649.528" stroke="#000" stroke-width="2.3" stroke-dasharray="15.2 2.28 9.5"/>
<text x="576.64" y="651.523" class="lg" style="font-size:10.07px" textLength="75.629" lengthAdjust="spacingAndGlyphs">Multiplier for CND(-)</text>
<line x1="550.99" y1="660.89" x2="573.79" y2="660.89" stroke="#f00" stroke-width="2.3" stroke-dasharray="4.085 2.09"/>
<text x="576.64" y="662.885" class="lg" style="font-size:10.07px" textLength="98.325" lengthAdjust="spacingAndGlyphs">Asymmetry Plot (with C.I.)</text>
</g>
<g id="c8">
<line x1="829" y1="399" x2="1190.7" y2="399" stroke="#777" stroke-width="1.3"/>
<line x1="829" y1="399" x2="829" y2="669" stroke="#777" stroke-width="1.3"/>
<line x1="1190.7" y1="399" x2="1190.7" y2="669" stroke="#666" stroke-width="1.3"/>
<line x1="861.9" y1="406.4" x2="861.9" y2="606.5" stroke="#787878" stroke-width="1.4"/>
<line x1="858.5" y1="602.3" x2="1188.4" y2="602.3" stroke="#787878" stroke-width="1.6"/>
<line x1="858.5" y1="407" x2="861.9" y2="407" stroke="#444444" stroke-width="1.4"/>
<text transform="translate(854.8 408.75) scale(0.88 1)" class="yl" style="font-size:10.638px"><tspan class="lf">.</tspan>0012</text>
<line x1="858.5" y1="439.55" x2="861.9" y2="439.55" stroke="#444444" stroke-width="1.4"/>
<text transform="translate(854.8 441.3) scale(0.88 1)" class="yl" style="font-size:10.638px"><tspan class="lf">.</tspan>0008</text>
<line x1="858.5" y1="472.1" x2="861.9" y2="472.1" stroke="#444444" stroke-width="1.4"/>
<text transform="translate(854.8 473.85) scale(0.88 1)" class="yl" style="font-size:10.638px"><tspan class="lf">.</tspan>0004</text>
<line x1="858.5" y1="504.65" x2="861.9" y2="504.65" stroke="#444444" stroke-width="1.4"/>
<text transform="translate(854.8 506.4) scale(0.88 1)" class="yl" style="font-size:10.638px"><tspan class="lf">.</tspan>0000</text>
<line x1="858.5" y1="537.2" x2="861.9" y2="537.2" stroke="#444444" stroke-width="1.4"/>
<text transform="translate(854.8 538.95) scale(0.88 1)" class="yl" style="font-size:10.638px"><tspan class="lf">-.</tspan>0004</text>
<line x1="858.5" y1="569.75" x2="861.9" y2="569.75" stroke="#444444" stroke-width="1.4"/>
<text transform="translate(854.8 571.5) scale(0.88 1)" class="yl" style="font-size:10.638px"><tspan class="lf">-.</tspan>0008</text>
<line x1="858.5" y1="602.3" x2="861.9" y2="602.3" stroke="#444444" stroke-width="1.4"/>
<text transform="translate(854.8 604.05) scale(0.88 1)" class="yl" style="font-size:10.638px"><tspan class="lf">-.</tspan>0012</text>
<line x1="861.9" y1="602.3" x2="861.9" y2="606.5" stroke="#444444" stroke-width="1.4"/>
<line x1="883.627" y1="602.3" x2="883.627" y2="606.5" stroke="#444444" stroke-width="1.4"/>
<line x1="905.353" y1="602.3" x2="905.353" y2="606.5" stroke="#444444" stroke-width="1.4"/>
<line x1="927.08" y1="602.3" x2="927.08" y2="606.5" stroke="#444444" stroke-width="1.4"/>
<line x1="948.807" y1="602.3" x2="948.807" y2="606.5" stroke="#444444" stroke-width="1.4"/>
<line x1="970.533" y1="602.3" x2="970.533" y2="606.5" stroke="#444444" stroke-width="1.4"/>
<line x1="992.26" y1="602.3" x2="992.26" y2="606.5" stroke="#444444" stroke-width="1.4"/>
<line x1="1013.987" y1="602.3" x2="1013.987" y2="606.5" stroke="#444444" stroke-width="1.4"/>
<line x1="1035.713" y1="602.3" x2="1035.713" y2="606.5" stroke="#444444" stroke-width="1.4"/>
<line x1="1057.44" y1="602.3" x2="1057.44" y2="606.5" stroke="#444444" stroke-width="1.4"/>
<line x1="1079.167" y1="602.3" x2="1079.167" y2="606.5" stroke="#444444" stroke-width="1.4"/>
<line x1="1100.893" y1="602.3" x2="1100.893" y2="606.5" stroke="#444444" stroke-width="1.4"/>
<line x1="1122.62" y1="602.3" x2="1122.62" y2="606.5" stroke="#444444" stroke-width="1.4"/>
<line x1="1144.347" y1="602.3" x2="1144.347" y2="606.5" stroke="#444444" stroke-width="1.4"/>
<line x1="1166.073" y1="602.3" x2="1166.073" y2="606.5" stroke="#444444" stroke-width="1.4"/>
<line x1="1187.8" y1="602.3" x2="1187.8" y2="606.5" stroke="#444444" stroke-width="1.4"/>
<text transform="translate(872.763 616.7) scale(0.93 1)" class="xl" style="font-size:10.638px">1</text>
<text transform="translate(916.217 616.7) scale(0.93 1)" class="xl" style="font-size:10.638px">3</text>
<text transform="translate(959.67 616.7) scale(0.93 1)" class="xl" style="font-size:10.638px">5</text>
<text transform="translate(1003.123 616.7) scale(0.93 1)" class="xl" style="font-size:10.638px">7</text>
<text transform="translate(1046.577 616.7) scale(0.93 1)" class="xl" style="font-size:10.638px">9</text>
<text transform="translate(1090.03 616.7) scale(0.93 1)" class="xl" style="font-size:10.638px">11</text>
<text transform="translate(1133.483 616.7) scale(0.93 1)" class="xl" style="font-size:10.638px">13</text>
<text transform="translate(1176.937 616.7) scale(0.93 1)" class="xl" style="font-size:10.638px">15</text>
<line x1="858.5" y1="504.65" x2="1187.8" y2="504.65" stroke="#555555" stroke-width="1.2"/>
<polyline points="872.763,504.65 894.49,448.3 916.217,454 937.943,453.3 959.67,453.3 981.397,453.3 1003.123,453.3 1024.85,453.3 1046.577,453.3 1068.303,453.3 1090.03,453.3 1111.757,453.3 1133.483,453.3 1155.21,453.3 1176.937,453.3" stroke="#ff2a2a" stroke-width="0.95" fill="none" stroke-dasharray="2.46 1.13"/>
<polyline points="872.763,504.65 894.49,512.7 916.217,512 937.943,512 959.67,512 981.397,512 1003.123,512 1024.85,512 1046.577,512 1068.303,512 1090.03,512 1111.757,512 1133.483,512 1155.21,512 1176.937,512" stroke="#ff2a2a" stroke-width="0.95" fill="none" stroke-dasharray="2.46 1.13"/>
<polyline points="872.763,504.65 894.49,414.3 916.217,425.7 937.943,423.7 959.67,423.7 981.397,423.7 1003.123,423.7 1024.85,423.7 1046.577,423.7 1068.303,423.7 1090.03,423.7 1111.757,423.7 1133.483,423.7 1155.21,423.7 1176.937,423.7" stroke="#000" stroke-width="2.46" fill="none"/>
<polyline points="872.763,504.65 894.49,570.7 916.217,562.3 937.943,563 959.67,563 981.397,563 1003.123,563 1024.85,563 1046.577,563 1068.303,563 1090.03,563 1111.757,563 1133.483,563 1155.21,563 1176.937,563" stroke="#000" stroke-width="2.36" fill="none" stroke-dasharray="14.19 1.80"/>
<polyline points="872.763,504.65 894.49,480 916.217,483.3 937.943,483.3 959.67,483.3 981.397,483.3 1003.123,483.3 1024.85,483.3 1046.577,483.3 1068.303,483.3 1090.03,483.3 1111.757,483.3 1133.483,483.3 1155.21,483.3 1176.937,483.3" stroke="#f00" stroke-width="2.46" fill="none" stroke-dasharray="4.73 1.51"/>
<rect x="955.7" y="630.7" width="138.3" height="38.3" fill="#fff" stroke="#222" stroke-width="1.2"/>
<line x1="959.721" y1="638.552" x2="982.702" y2="638.552" stroke="#000" stroke-width="2.2"/>
<text x="985.574" y="640.562" class="lg" style="font-size:10.149px" textLength="71.308" lengthAdjust="spacingAndGlyphs">Multiplier for HI(+)</text>
<line x1="959.721" y1="650.08" x2="982.702" y2="650.08" stroke="#000" stroke-width="2.3" stroke-dasharray="15.32 2.298 9.575"/>
<text x="985.574" y="652.091" class="lg" style="font-size:10.149px" textLength="69.062" lengthAdjust="spacingAndGlyphs">Multiplier for HI(-)</text>
<line x1="959.721" y1="661.532" x2="982.702" y2="661.532" stroke="#f00" stroke-width="2.3" stroke-dasharray="4.117 2.106"/>
<text x="985.574" y="663.542" class="lg" style="font-size:10.149px" textLength="103.351" lengthAdjust="spacingAndGlyphs">Asymmetry Plot (with C.I.)</text>
</g>
<g id="a9">
<line x1="12.3" y1="780" x2="364.3" y2="780" stroke="#888" stroke-width="1.3"/>
<line x1="12.3" y1="780" x2="12.3" y2="1065" stroke="#555" stroke-width="1.3"/>
<line x1="364.3" y1="780" x2="364.3" y2="1065" stroke="#777" stroke-width="1.3"/>
<line x1="12.3" y1="1065" x2="364.3" y2="1065" stroke="#555" stroke-width="1.3"/>
<line x1="35.3" y1="787.7" x2="35.3" y2="997.8" stroke="#787878" stroke-width="1.4"/>
<line x1="31.9" y1="993.6" x2="362.1" y2="993.6" stroke="#787878" stroke-width="1.6"/>
<line x1="31.9" y1="788.3" x2="35.3" y2="788.3" stroke="#444444" stroke-width="1.4"/>
<text transform="translate(28.5 790.25) scale(0.88 1)" class="yl" style="font-size:11.206px"><tspan class="lf">.</tspan>20</text>
<line x1="31.9" y1="813.962" x2="35.3" y2="813.962" stroke="#444444" stroke-width="1.4"/>
<text transform="translate(28.5 815.913) scale(0.88 1)" class="yl" style="font-size:11.206px"><tspan class="lf">.</tspan>15</text>
<line x1="31.9" y1="839.625" x2="35.3" y2="839.625" stroke="#444444" stroke-width="1.4"/>
<text transform="translate(28.5 841.575) scale(0.88 1)" class="yl" style="font-size:11.206px"><tspan class="lf">.</tspan>10</text>
<line x1="31.9" y1="865.288" x2="35.3" y2="865.288" stroke="#444444" stroke-width="1.4"/>
<text transform="translate(28.5 867.238) scale(0.88 1)" class="yl" style="font-size:11.206px"><tspan class="lf">.</tspan>05</text>
<line x1="31.9" y1="890.95" x2="35.3" y2="890.95" stroke="#444444" stroke-width="1.4"/>
<text transform="translate(28.5 892.9) scale(0.88 1)" class="yl" style="font-size:11.206px"><tspan class="lf">.</tspan>00</text>
<line x1="31.9" y1="916.612" x2="35.3" y2="916.612" stroke="#444444" stroke-width="1.4"/>
<text transform="translate(28.5 918.562) scale(0.88 1)" class="yl" style="font-size:11.206px"><tspan class="lf">-.</tspan>05</text>
<line x1="31.9" y1="942.275" x2="35.3" y2="942.275" stroke="#444444" stroke-width="1.4"/>
<text transform="translate(28.5 944.225) scale(0.88 1)" class="yl" style="font-size:11.206px"><tspan class="lf">-.</tspan>10</text>
<line x1="31.9" y1="967.938" x2="35.3" y2="967.938" stroke="#444444" stroke-width="1.4"/>
<text transform="translate(28.5 969.888) scale(0.88 1)" class="yl" style="font-size:11.206px"><tspan class="lf">-.</tspan>15</text>
<line x1="31.9" y1="993.6" x2="35.3" y2="993.6" stroke="#444444" stroke-width="1.4"/>
<text transform="translate(28.5 995.55) scale(0.88 1)" class="yl" style="font-size:11.206px"><tspan class="lf">-.</tspan>20</text>
<line x1="35.3" y1="993.6" x2="35.3" y2="997.8" stroke="#444444" stroke-width="1.4"/>
<line x1="57.047" y1="993.6" x2="57.047" y2="997.8" stroke="#444444" stroke-width="1.4"/>
<line x1="78.793" y1="993.6" x2="78.793" y2="997.8" stroke="#444444" stroke-width="1.4"/>
<line x1="100.54" y1="993.6" x2="100.54" y2="997.8" stroke="#444444" stroke-width="1.4"/>
<line x1="122.287" y1="993.6" x2="122.287" y2="997.8" stroke="#444444" stroke-width="1.4"/>
<line x1="144.033" y1="993.6" x2="144.033" y2="997.8" stroke="#444444" stroke-width="1.4"/>
<line x1="165.78" y1="993.6" x2="165.78" y2="997.8" stroke="#444444" stroke-width="1.4"/>
<line x1="187.527" y1="993.6" x2="187.527" y2="997.8" stroke="#444444" stroke-width="1.4"/>
<line x1="209.273" y1="993.6" x2="209.273" y2="997.8" stroke="#444444" stroke-width="1.4"/>
<line x1="231.02" y1="993.6" x2="231.02" y2="997.8" stroke="#444444" stroke-width="1.4"/>
<line x1="252.767" y1="993.6" x2="252.767" y2="997.8" stroke="#444444" stroke-width="1.4"/>
<line x1="274.513" y1="993.6" x2="274.513" y2="997.8" stroke="#444444" stroke-width="1.4"/>
<line x1="296.26" y1="993.6" x2="296.26" y2="997.8" stroke="#444444" stroke-width="1.4"/>
<line x1="318.007" y1="993.6" x2="318.007" y2="997.8" stroke="#444444" stroke-width="1.4"/>
<line x1="339.753" y1="993.6" x2="339.753" y2="997.8" stroke="#444444" stroke-width="1.4"/>
<line x1="361.5" y1="993.6" x2="361.5" y2="997.8" stroke="#444444" stroke-width="1.4"/>
<text transform="translate(46.173 1008.7) scale(0.93 1)" class="xl" style="font-size:11.206px">1</text>
<text transform="translate(89.667 1008.7) scale(0.93 1)" class="xl" style="font-size:11.206px">3</text>
<text transform="translate(133.16 1008.7) scale(0.93 1)" class="xl" style="font-size:11.206px">5</text>
<text transform="translate(176.653 1008.7) scale(0.93 1)" class="xl" style="font-size:11.206px">7</text>
<text transform="translate(220.147 1008.7) scale(0.93 1)" class="xl" style="font-size:11.206px">9</text>
<text transform="translate(263.64 1008.7) scale(0.93 1)" class="xl" style="font-size:11.206px">11</text>
<text transform="translate(307.133 1008.7) scale(0.93 1)" class="xl" style="font-size:11.206px">13</text>
<text transform="translate(350.627 1008.7) scale(0.93 1)" class="xl" style="font-size:11.206px">15</text>
<line x1="31.9" y1="890.95" x2="361.5" y2="890.95" stroke="#555555" stroke-width="1.2"/>
<polyline points="46.173,890.95 67.92,888 89.667,888 111.413,888 133.16,888 154.907,888 176.653,888 198.4,888 220.147,888 241.893,888 263.64,888 285.387,888 307.133,888 328.88,888 350.627,888" stroke="#ff2a2a" stroke-width="1.00" fill="none" stroke-dasharray="2.61 1.21"/>
<polyline points="46.173,890.95 67.92,895.5 89.667,895 111.413,895 133.16,895 154.907,895 176.653,895 198.4,895 220.147,895 241.893,895 263.64,895 285.387,895 307.133,895 328.88,895 350.627,895" stroke="#ff2a2a" stroke-width="1.00" fill="none" stroke-dasharray="2.61 1.21"/>
<polyline points="46.173,890.95 67.92,976.7 89.667,964.3 111.413,966.3 133.16,966.3 154.907,966.3 176.653,966.3 198.4,966.3 220.147,966.3 241.893,966.3 263.64,966.3 285.387,966.3 307.133,966.3 328.88,966.3 350.627,966.3" stroke="#000" stroke-width="2.61" fill="none"/>
<polyline points="46.173,890.95 67.92,806.7 89.667,819 111.413,817 133.16,817 154.907,817 176.653,817 198.4,817 220.147,817 241.893,817 263.64,817 285.387,817 307.133,817 328.88,817 350.627,817" stroke="#000" stroke-width="2.51" fill="none" stroke-dasharray="15.07 1.91"/>
<polyline points="46.173,890.95 67.92,893 89.667,893 111.413,893 133.16,893 154.907,893 176.653,893 198.4,893 220.147,893 241.893,893 263.64,893 285.387,893 307.133,893 328.88,893 350.627,893" stroke="#f00" stroke-width="2.61" fill="none" stroke-dasharray="5.02 1.61"/>
<rect x="129.3" y="1024" width="139.4" height="40.7" fill="#fff" stroke="#222" stroke-width="1.2"/>
<line x1="133.574" y1="1032.343" x2="157.994" y2="1032.343" stroke="#000" stroke-width="2.2"/>
<text x="161.046" y="1034.48" class="lg" style="font-size:10.786px" textLength="75.97" lengthAdjust="spacingAndGlyphs">Multiplier for VIX(+)</text>
<line x1="133.574" y1="1044.594" x2="157.994" y2="1044.594" stroke="#000" stroke-width="2.3" stroke-dasharray="16.28 2.442 10.175"/>
<text x="161.046" y="1046.731" class="lg" style="font-size:10.786px" textLength="73.748" lengthAdjust="spacingAndGlyphs">Multiplier for VIX(-)</text>
<line x1="133.574" y1="1056.764" x2="157.994" y2="1056.764" stroke="#f00" stroke-width="2.3" stroke-dasharray="4.375 2.239"/>
<text x="161.046" y="1058.9" class="lg" style="font-size:10.786px" textLength="102.261" lengthAdjust="spacingAndGlyphs">Asymmetry Plot (with C.I.)</text>
</g>
<g id="b9">
<line x1="417.3" y1="780" x2="782.3" y2="780" stroke="#888" stroke-width="1.3"/>
<line x1="417.3" y1="780" x2="417.3" y2="1065" stroke="#777" stroke-width="1.3"/>
<line x1="782.3" y1="780" x2="782.3" y2="1065" stroke="#555" stroke-width="1.3"/>
<line x1="417.3" y1="1065" x2="782.3" y2="1065" stroke="#555" stroke-width="1.3"/>
<line x1="446.25" y1="787.7" x2="446.25" y2="997.7" stroke="#787878" stroke-width="1.4"/>
<line x1="442.85" y1="993.5" x2="781.1" y2="993.5" stroke="#787878" stroke-width="1.6"/>
<line x1="442.85" y1="788.3" x2="446.25" y2="788.3" stroke="#444444" stroke-width="1.4"/>
<text transform="translate(438.75 790.2) scale(0.88 1)" class="yl" style="font-size:11.064px"><tspan class="lf">.</tspan>003</text>
<line x1="442.85" y1="811.1" x2="446.25" y2="811.1" stroke="#444444" stroke-width="1.4"/>
<text transform="translate(438.75 813) scale(0.88 1)" class="yl" style="font-size:11.064px"><tspan class="lf">.</tspan>002</text>
<line x1="442.85" y1="833.9" x2="446.25" y2="833.9" stroke="#444444" stroke-width="1.4"/>
<text transform="translate(438.75 835.8) scale(0.88 1)" class="yl" style="font-size:11.064px"><tspan class="lf">.</tspan>001</text>
<line x1="442.85" y1="856.7" x2="446.25" y2="856.7" stroke="#444444" stroke-width="1.4"/>
<text transform="translate(438.75 858.6) scale(0.88 1)" class="yl" style="font-size:11.064px"><tspan class="lf">.</tspan>000</text>
<line x1="442.85" y1="879.5" x2="446.25" y2="879.5" stroke="#444444" stroke-width="1.4"/>
<text transform="translate(438.75 881.4) scale(0.88 1)" class="yl" style="font-size:11.064px"><tspan class="lf">-.</tspan>001</text>
<line x1="442.85" y1="902.3" x2="446.25" y2="902.3" stroke="#444444" stroke-width="1.4"/>
<text transform="translate(438.75 904.2) scale(0.88 1)" class="yl" style="font-size:11.064px"><tspan class="lf">-.</tspan>002</text>
<line x1="442.85" y1="925.1" x2="446.25" y2="925.1" stroke="#444444" stroke-width="1.4"/>
<text transform="translate(438.75 927) scale(0.88 1)" class="yl" style="font-size:11.064px"><tspan class="lf">-.</tspan>003</text>
<line x1="442.85" y1="947.9" x2="446.25" y2="947.9" stroke="#444444" stroke-width="1.4"/>
<text transform="translate(438.75 949.8) scale(0.88 1)" class="yl" style="font-size:11.064px"><tspan class="lf">-.</tspan>004</text>
<line x1="442.85" y1="970.7" x2="446.25" y2="970.7" stroke="#444444" stroke-width="1.4"/>
<text transform="translate(438.75 972.6) scale(0.88 1)" class="yl" style="font-size:11.064px"><tspan class="lf">-.</tspan>005</text>
<line x1="442.85" y1="993.5" x2="446.25" y2="993.5" stroke="#444444" stroke-width="1.4"/>
<text transform="translate(438.75 995.4) scale(0.88 1)" class="yl" style="font-size:11.064px"><tspan class="lf">-.</tspan>006</text>
<line x1="446.25" y1="993.5" x2="446.25" y2="997.7" stroke="#444444" stroke-width="1.4"/>
<line x1="468.533" y1="993.5" x2="468.533" y2="997.7" stroke="#444444" stroke-width="1.4"/>
<line x1="490.817" y1="993.5" x2="490.817" y2="997.7" stroke="#444444" stroke-width="1.4"/>
<line x1="513.1" y1="993.5" x2="513.1" y2="997.7" stroke="#444444" stroke-width="1.4"/>
<line x1="535.383" y1="993.5" x2="535.383" y2="997.7" stroke="#444444" stroke-width="1.4"/>
<line x1="557.667" y1="993.5" x2="557.667" y2="997.7" stroke="#444444" stroke-width="1.4"/>
<line x1="579.95" y1="993.5" x2="579.95" y2="997.7" stroke="#444444" stroke-width="1.4"/>
<line x1="602.233" y1="993.5" x2="602.233" y2="997.7" stroke="#444444" stroke-width="1.4"/>
<line x1="624.517" y1="993.5" x2="624.517" y2="997.7" stroke="#444444" stroke-width="1.4"/>
<line x1="646.8" y1="993.5" x2="646.8" y2="997.7" stroke="#444444" stroke-width="1.4"/>
<line x1="669.083" y1="993.5" x2="669.083" y2="997.7" stroke="#444444" stroke-width="1.4"/>
<line x1="691.367" y1="993.5" x2="691.367" y2="997.7" stroke="#444444" stroke-width="1.4"/>
<line x1="713.65" y1="993.5" x2="713.65" y2="997.7" stroke="#444444" stroke-width="1.4"/>
<line x1="735.933" y1="993.5" x2="735.933" y2="997.7" stroke="#444444" stroke-width="1.4"/>
<line x1="758.217" y1="993.5" x2="758.217" y2="997.7" stroke="#444444" stroke-width="1.4"/>
<line x1="780.5" y1="993.5" x2="780.5" y2="997.7" stroke="#444444" stroke-width="1.4"/>
<text transform="translate(457.392 1008.7) scale(0.93 1)" class="xl" style="font-size:11.064px">1</text>
<text transform="translate(501.958 1008.7) scale(0.93 1)" class="xl" style="font-size:11.064px">3</text>
<text transform="translate(546.525 1008.7) scale(0.93 1)" class="xl" style="font-size:11.064px">5</text>
<text transform="translate(591.092 1008.7) scale(0.93 1)" class="xl" style="font-size:11.064px">7</text>
<text transform="translate(635.658 1008.7) scale(0.93 1)" class="xl" style="font-size:11.064px">9</text>
<text transform="translate(680.225 1008.7) scale(0.93 1)" class="xl" style="font-size:11.064px">11</text>
<text transform="translate(724.792 1008.7) scale(0.93 1)" class="xl" style="font-size:11.064px">13</text>
<text transform="translate(769.358 1008.7) scale(0.93 1)" class="xl" style="font-size:11.064px">15</text>
<line x1="442.85" y1="856.7" x2="780.5" y2="856.7" stroke="#555555" stroke-width="1.2"/>
<polyline points="457.392,856.7 479.675,807.3 501.958,814.3 524.242,813 546.525,813 568.808,813 591.092,813 613.375,813 635.658,813 657.942,813 680.225,813 702.508,813 724.792,813 747.075,813 769.358,813" stroke="#ff2a2a" stroke-width="1.00" fill="none" stroke-dasharray="2.61 1.21"/>
<polyline points="457.392,856.7 479.675,979 501.958,961 524.242,963.7 546.525,963.7 568.808,963.7 591.092,963.7 613.375,963.7 635.658,963.7 657.942,963.7 680.225,963.7 702.508,963.7 724.792,963.7 747.075,963.7 769.358,963.7" stroke="#ff2a2a" stroke-width="1.00" fill="none" stroke-dasharray="2.61 1.21"/>
<polyline points="457.392,856.7 479.675,861.7 501.958,860.7 524.242,860.7 546.525,860.7 568.808,860.7 591.092,860.7 613.375,860.7 635.658,860.7 657.942,860.7 680.225,860.7 702.508,860.7 724.792,860.7 747.075,860.7 769.358,860.7" stroke="#000" stroke-width="2.61" fill="none"/>
<polyline points="457.392,856.7 479.675,890 501.958,884.3 524.242,885.7 546.525,885.7 568.808,885.7 591.092,885.7 613.375,885.7 635.658,885.7 657.942,885.7 680.225,885.7 702.508,885.7 724.792,885.7 747.075,885.7 769.358,885.7" stroke="#000" stroke-width="2.51" fill="none" stroke-dasharray="15.07 1.91"/>
<polyline points="457.392,856.7 479.675,893.3 501.958,888.7 524.242,889 546.525,889 568.808,889 591.092,889 613.375,889 635.658,889 657.942,889 680.225,889 702.508,889 724.792,889 747.075,889 769.358,889" stroke="#f00" stroke-width="2.61" fill="none" stroke-dasharray="5.02 1.61"/>
<rect x="542.3" y="1024" width="143" height="40.7" fill="#fff" stroke="#222" stroke-width="1.2"/>
<line x1="546.573" y1="1032.343" x2="570.994" y2="1032.343" stroke="#000" stroke-width="2.2"/>
<text x="574.046" y="1034.48" class="lg" style="font-size:10.786px" textLength="83.726" lengthAdjust="spacingAndGlyphs">Multiplier for CND(+)</text>
<line x1="546.573" y1="1044.594" x2="570.994" y2="1044.594" stroke="#000" stroke-width="2.3" stroke-dasharray="16.28 2.442 10.175"/>
<text x="574.046" y="1046.731" class="lg" style="font-size:10.786px" textLength="81.426" lengthAdjust="spacingAndGlyphs">Multiplier for CND(-)</text>
<line x1="546.573" y1="1056.764" x2="570.994" y2="1056.764" stroke="#f00" stroke-width="2.3" stroke-dasharray="4.375 2.239"/>
<text x="574.046" y="1058.9" class="lg" style="font-size:10.786px" textLength="105.861" lengthAdjust="spacingAndGlyphs">Asymmetry Plot (with C.I.)</text>
</g>
<g id="c9">
<line x1="828.7" y1="780" x2="1192.3" y2="780" stroke="#999" stroke-width="1.3"/>
<line x1="828.7" y1="780" x2="828.7" y2="1059.7" stroke="#777" stroke-width="1.3"/>
<line x1="1192.3" y1="780" x2="1192.3" y2="1059.7" stroke="#aaa" stroke-width="1.3"/>
<line x1="828.7" y1="1059.7" x2="1192.3" y2="1059.7" stroke="#888" stroke-width="1.3"/>
<line x1="852.5" y1="787.7" x2="852.5" y2="993.7" stroke="#787878" stroke-width="1.4"/>
<line x1="849.1" y1="989.5" x2="1189.8" y2="989.5" stroke="#787878" stroke-width="1.6"/>
<line x1="849.1" y1="788.3" x2="852.5" y2="788.3" stroke="#444444" stroke-width="1.4"/>
<text transform="translate(845.4 790.1) scale(0.88 1)" class="yl" style="font-size:10.78px"><tspan class="lf">.</tspan>12</text>
<line x1="849.1" y1="828.54" x2="852.5" y2="828.54" stroke="#444444" stroke-width="1.4"/>
<text transform="translate(845.4 830.34) scale(0.88 1)" class="yl" style="font-size:10.78px"><tspan class="lf">.</tspan>08</text>
<line x1="849.1" y1="868.78" x2="852.5" y2="868.78" stroke="#444444" stroke-width="1.4"/>
<text transform="translate(845.4 870.58) scale(0.88 1)" class="yl" style="font-size:10.78px"><tspan class="lf">.</tspan>04</text>
<line x1="849.1" y1="909.02" x2="852.5" y2="909.02" stroke="#444444" stroke-width="1.4"/>
<text transform="translate(845.4 910.82) scale(0.88 1)" class="yl" style="font-size:10.78px"><tspan class="lf">.</tspan>00</text>
<line x1="849.1" y1="949.26" x2="852.5" y2="949.26" stroke="#444444" stroke-width="1.4"/>
<text transform="translate(845.4 951.06) scale(0.88 1)" class="yl" style="font-size:10.78px"><tspan class="lf">-.</tspan>04</text>
<line x1="849.1" y1="989.5" x2="852.5" y2="989.5" stroke="#444444" stroke-width="1.4"/>
<text transform="translate(845.4 991.3) scale(0.88 1)" class="yl" style="font-size:10.78px"><tspan class="lf">-.</tspan>08</text>
<line x1="852.5" y1="989.5" x2="852.5" y2="993.7" stroke="#444444" stroke-width="1.4"/>
<line x1="874.947" y1="989.5" x2="874.947" y2="993.7" stroke="#444444" stroke-width="1.4"/>
<line x1="897.393" y1="989.5" x2="897.393" y2="993.7" stroke="#444444" stroke-width="1.4"/>
<line x1="919.84" y1="989.5" x2="919.84" y2="993.7" stroke="#444444" stroke-width="1.4"/>
<line x1="942.287" y1="989.5" x2="942.287" y2="993.7" stroke="#444444" stroke-width="1.4"/>
<line x1="964.733" y1="989.5" x2="964.733" y2="993.7" stroke="#444444" stroke-width="1.4"/>
<line x1="987.18" y1="989.5" x2="987.18" y2="993.7" stroke="#444444" stroke-width="1.4"/>
<line x1="1009.627" y1="989.5" x2="1009.627" y2="993.7" stroke="#444444" stroke-width="1.4"/>
<line x1="1032.073" y1="989.5" x2="1032.073" y2="993.7" stroke="#444444" stroke-width="1.4"/>
<line x1="1054.52" y1="989.5" x2="1054.52" y2="993.7" stroke="#444444" stroke-width="1.4"/>
<line x1="1076.967" y1="989.5" x2="1076.967" y2="993.7" stroke="#444444" stroke-width="1.4"/>
<line x1="1099.413" y1="989.5" x2="1099.413" y2="993.7" stroke="#444444" stroke-width="1.4"/>
<line x1="1121.86" y1="989.5" x2="1121.86" y2="993.7" stroke="#444444" stroke-width="1.4"/>
<line x1="1144.307" y1="989.5" x2="1144.307" y2="993.7" stroke="#444444" stroke-width="1.4"/>
<line x1="1166.753" y1="989.5" x2="1166.753" y2="993.7" stroke="#444444" stroke-width="1.4"/>
<line x1="1189.2" y1="989.5" x2="1189.2" y2="993.7" stroke="#444444" stroke-width="1.4"/>
<text transform="translate(863.723 1004.5) scale(0.93 1)" class="xl" style="font-size:10.78px">1</text>
<text transform="translate(908.617 1004.5) scale(0.93 1)" class="xl" style="font-size:10.78px">3</text>
<text transform="translate(953.51 1004.5) scale(0.93 1)" class="xl" style="font-size:10.78px">5</text>
<text transform="translate(998.403 1004.5) scale(0.93 1)" class="xl" style="font-size:10.78px">7</text>
<text transform="translate(1043.297 1004.5) scale(0.93 1)" class="xl" style="font-size:10.78px">9</text>
<text transform="translate(1088.19 1004.5) scale(0.93 1)" class="xl" style="font-size:10.78px">11</text>
<text transform="translate(1133.083 1004.5) scale(0.93 1)" class="xl" style="font-size:10.78px">13</text>
<text transform="translate(1177.977 1004.5) scale(0.93 1)" class="xl" style="font-size:10.78px">15</text>
<line x1="849.1" y1="909.02" x2="1189.2" y2="909.02" stroke="#555555" stroke-width="1.2"/>
<polyline points="863.723,909.02 886.17,829.3 908.617,920.7 931.063,895 953.51,905 975.957,905 998.403,905 1020.85,905 1043.297,905 1065.743,905 1088.19,905 1110.637,905 1133.083,905 1155.53,905 1177.977,905" stroke="#ff2a2a" stroke-width="0.99" fill="none" stroke-dasharray="2.57 1.19"/>
<polyline points="863.723,909.02 886.17,903.3 908.617,978.3 931.063,906.7 953.51,909.3 975.957,908 998.403,908 1020.85,908 1043.297,908 1065.743,908 1088.19,908 1110.637,908 1133.083,908 1155.53,908 1177.977,908" stroke="#ff2a2a" stroke-width="0.99" fill="none" stroke-dasharray="2.57 1.19"/>
<polyline points="863.723,909.02 886.17,886.7 908.617,914.3 931.063,873.3 953.51,878.3 975.957,878 998.403,878 1020.85,878 1043.297,878 1065.743,878 1088.19,878 1110.637,878 1133.083,878 1155.53,878 1177.977,878" stroke="#000" stroke-width="2.57" fill="none"/>
<polyline points="863.723,909.02 886.17,890.7 908.617,944.3 931.063,935 953.51,936.7 975.957,936.7 998.403,936.7 1020.85,936.7 1043.297,936.7 1065.743,936.7 1088.19,936.7 1110.637,936.7 1133.083,936.7 1155.53,936.7 1177.977,936.7" stroke="#000" stroke-width="2.47" fill="none" stroke-dasharray="14.81 1.88"/>
<polyline points="863.723,909.02 886.17,866.7 908.617,948.3 931.063,900.7 953.51,906.7 975.957,906.7 998.403,906.7 1020.85,906.7 1043.297,906.7 1065.743,906.7 1088.19,906.7 1110.637,906.7 1133.083,906.7 1155.53,906.7 1177.977,906.7" stroke="#f00" stroke-width="2.57" fill="none" stroke-dasharray="4.94 1.58"/>
<rect x="949" y="1019.3" width="144" height="40" fill="#fff" stroke="#222" stroke-width="1.2"/>
<line x1="953.2" y1="1027.5" x2="977.2" y2="1027.5" stroke="#000" stroke-width="2.2"/>
<text x="980.2" y="1029.6" class="lg" style="font-size:10.6px" textLength="79.852" lengthAdjust="spacingAndGlyphs">Multiplier for FNI(+)</text>
<line x1="953.2" y1="1039.54" x2="977.2" y2="1039.54" stroke="#000" stroke-width="2.3" stroke-dasharray="16 2.4 10"/>
<text x="980.2" y="1041.64" class="lg" style="font-size:10.6px" textLength="77.516" lengthAdjust="spacingAndGlyphs">Multiplier for FNI(-)</text>
<line x1="953.2" y1="1051.5" x2="977.2" y2="1051.5" stroke="#f00" stroke-width="2.3" stroke-dasharray="4.3 2.2"/>
<text x="980.2" y="1053.6" class="lg" style="font-size:10.6px" textLength="107.5" lengthAdjust="spacingAndGlyphs">Asymmetry Plot (with C.I.)</text>
</g>
<g id="a10">
<line x1="23.3" y1="1180" x2="344.3" y2="1180" stroke="#aaa" stroke-width="1.3"/>
<line x1="23.3" y1="1180" x2="23.3" y2="1438.3" stroke="#ccc" stroke-width="1.3"/>
<line x1="344.3" y1="1180" x2="344.3" y2="1438.3" stroke="#ccc" stroke-width="1.3"/>
<line x1="23.3" y1="1438.3" x2="344.3" y2="1438.3" stroke="#ccc" stroke-width="1.3"/>
<line x1="43.75" y1="1186.8" x2="43.75" y2="1378.1" stroke="#787878" stroke-width="1.4"/>
<line x1="40.35" y1="1373.9" x2="341.9" y2="1373.9" stroke="#787878" stroke-width="1.6"/>
<line x1="40.35" y1="1187.4" x2="43.75" y2="1187.4" stroke="#444444" stroke-width="1.4"/>
<text transform="translate(37.75 1188.875) scale(0.88 1)" class="yl" style="font-size:9.858px"><tspan class="lf">.</tspan>20</text>
<line x1="40.35" y1="1210.713" x2="43.75" y2="1210.713" stroke="#444444" stroke-width="1.4"/>
<text transform="translate(37.75 1212.188) scale(0.88 1)" class="yl" style="font-size:9.858px"><tspan class="lf">.</tspan>15</text>
<line x1="40.35" y1="1234.025" x2="43.75" y2="1234.025" stroke="#444444" stroke-width="1.4"/>
<text transform="translate(37.75 1235.5) scale(0.88 1)" class="yl" style="font-size:9.858px"><tspan class="lf">.</tspan>10</text>
<line x1="40.35" y1="1257.338" x2="43.75" y2="1257.338" stroke="#444444" stroke-width="1.4"/>
<text transform="translate(37.75 1258.812) scale(0.88 1)" class="yl" style="font-size:9.858px"><tspan class="lf">.</tspan>05</text>
<line x1="40.35" y1="1280.65" x2="43.75" y2="1280.65" stroke="#444444" stroke-width="1.4"/>
<text transform="translate(37.75 1282.125) scale(0.88 1)" class="yl" style="font-size:9.858px"><tspan class="lf">.</tspan>00</text>
<line x1="40.35" y1="1303.963" x2="43.75" y2="1303.963" stroke="#444444" stroke-width="1.4"/>
<text transform="translate(37.75 1305.438) scale(0.88 1)" class="yl" style="font-size:9.858px"><tspan class="lf">-.</tspan>05</text>
<line x1="40.35" y1="1327.275" x2="43.75" y2="1327.275" stroke="#444444" stroke-width="1.4"/>
<text transform="translate(37.75 1328.75) scale(0.88 1)" class="yl" style="font-size:9.858px"><tspan class="lf">-.</tspan>10</text>
<line x1="40.35" y1="1350.588" x2="43.75" y2="1350.588" stroke="#444444" stroke-width="1.4"/>
<text transform="translate(37.75 1352.062) scale(0.88 1)" class="yl" style="font-size:9.858px"><tspan class="lf">-.</tspan>15</text>
<line x1="40.35" y1="1373.9" x2="43.75" y2="1373.9" stroke="#444444" stroke-width="1.4"/>
<text transform="translate(37.75 1375.375) scale(0.88 1)" class="yl" style="font-size:9.858px"><tspan class="lf">-.</tspan>20</text>
<line x1="43.75" y1="1373.9" x2="43.75" y2="1378.1" stroke="#444444" stroke-width="1.4"/>
<line x1="63.587" y1="1373.9" x2="63.587" y2="1378.1" stroke="#444444" stroke-width="1.4"/>
<line x1="83.423" y1="1373.9" x2="83.423" y2="1378.1" stroke="#444444" stroke-width="1.4"/>
<line x1="103.26" y1="1373.9" x2="103.26" y2="1378.1" stroke="#444444" stroke-width="1.4"/>
<line x1="123.097" y1="1373.9" x2="123.097" y2="1378.1" stroke="#444444" stroke-width="1.4"/>
<line x1="142.933" y1="1373.9" x2="142.933" y2="1378.1" stroke="#444444" stroke-width="1.4"/>
<line x1="162.77" y1="1373.9" x2="162.77" y2="1378.1" stroke="#444444" stroke-width="1.4"/>
<line x1="182.607" y1="1373.9" x2="182.607" y2="1378.1" stroke="#444444" stroke-width="1.4"/>
<line x1="202.443" y1="1373.9" x2="202.443" y2="1378.1" stroke="#444444" stroke-width="1.4"/>
<line x1="222.28" y1="1373.9" x2="222.28" y2="1378.1" stroke="#444444" stroke-width="1.4"/>
<line x1="242.117" y1="1373.9" x2="242.117" y2="1378.1" stroke="#444444" stroke-width="1.4"/>
<line x1="261.953" y1="1373.9" x2="261.953" y2="1378.1" stroke="#444444" stroke-width="1.4"/>
<line x1="281.79" y1="1373.9" x2="281.79" y2="1378.1" stroke="#444444" stroke-width="1.4"/>
<line x1="301.627" y1="1373.9" x2="301.627" y2="1378.1" stroke="#444444" stroke-width="1.4"/>
<line x1="321.463" y1="1373.9" x2="321.463" y2="1378.1" stroke="#444444" stroke-width="1.4"/>
<line x1="341.3" y1="1373.9" x2="341.3" y2="1378.1" stroke="#444444" stroke-width="1.4"/>
<text transform="translate(53.668 1387.7) scale(0.93 1)" class="xl" style="font-size:9.858px">1</text>
<text transform="translate(93.342 1387.7) scale(0.93 1)" class="xl" style="font-size:9.858px">3</text>
<text transform="translate(133.015 1387.7) scale(0.93 1)" class="xl" style="font-size:9.858px">5</text>
<text transform="translate(172.688 1387.7) scale(0.93 1)" class="xl" style="font-size:9.858px">7</text>
<text transform="translate(212.362 1387.7) scale(0.93 1)" class="xl" style="font-size:9.858px">9</text>
<text transform="translate(252.035 1387.7) scale(0.93 1)" class="xl" style="font-size:9.858px">11</text>
<text transform="translate(291.708 1387.7) scale(0.93 1)" class="xl" style="font-size:9.858px">13</text>
<text transform="translate(331.382 1387.7) scale(0.93 1)" class="xl" style="font-size:9.858px">15</text>
<line x1="40.35" y1="1280.65" x2="341.3" y2="1280.65" stroke="#555555" stroke-width="1.2"/>
<polyline points="53.668,1280.65 73.505,1273.7 93.342,1273.7 113.178,1273.7 133.015,1273.7 152.852,1273.7 172.688,1273.7 192.525,1273.7 212.362,1273.7 232.198,1273.7 252.035,1273.7 271.872,1273.7 291.708,1273.7 311.545,1273.7 331.382,1273.7" stroke="#ff2a2a" stroke-width="0.90" fill="none" stroke-dasharray="2.34 1.08"/>
<polyline points="53.668,1280.65 73.505,1284 93.342,1284 113.178,1284 133.015,1284 152.852,1284 172.688,1284 192.525,1284 212.362,1284 232.198,1284 252.035,1284 271.872,1284 291.708,1284 311.545,1284 331.382,1284" stroke="#ff2a2a" stroke-width="0.90" fill="none" stroke-dasharray="2.34 1.08"/>
<polyline points="53.668,1280.65 73.505,1355 93.342,1347 113.178,1347.7 133.015,1347.7 152.852,1347.7 172.688,1347.7 192.525,1347.7 212.362,1347.7 232.198,1347.7 252.035,1347.7 271.872,1347.7 291.708,1347.7 311.545,1347.7 331.382,1347.7" stroke="#000" stroke-width="2.34" fill="none"/>
<polyline points="53.668,1280.65 73.505,1203.3 93.342,1212.3 113.178,1211 133.015,1211 152.852,1211 172.688,1211 192.525,1211 212.362,1211 232.198,1211 252.035,1211 271.872,1211 291.708,1211 311.545,1211 331.382,1211" stroke="#000" stroke-width="2.25" fill="none" stroke-dasharray="13.48 1.71"/>
<polyline points="53.668,1280.65 73.505,1278.3 93.342,1278.3 113.178,1278.3 133.015,1278.3 152.852,1278.3 172.688,1278.3 192.525,1278.3 212.362,1278.3 232.198,1278.3 252.035,1278.3 271.872,1278.3 291.708,1278.3 311.545,1278.3 331.382,1278.3" stroke="#f00" stroke-width="2.34" fill="none" stroke-dasharray="4.49 1.44"/>
<rect x="129.3" y="1401.3" width="127.4" height="36.4" fill="#fff" stroke="#222" stroke-width="1.2"/>
<line x1="133.122" y1="1408.762" x2="154.962" y2="1408.762" stroke="#000" stroke-width="2.2"/>
<text x="157.692" y="1410.673" class="lg" style="font-size:9.646px" textLength="69.97" lengthAdjust="spacingAndGlyphs">Multiplier for VIX(+)</text>
<line x1="133.122" y1="1419.718" x2="154.962" y2="1419.718" stroke="#000" stroke-width="2.3" stroke-dasharray="14.56 2.184 9.1"/>
<text x="157.692" y="1421.629" class="lg" style="font-size:9.646px" textLength="67.924" lengthAdjust="spacingAndGlyphs">Multiplier for VIX(-)</text>
<line x1="133.122" y1="1430.602" x2="154.962" y2="1430.602" stroke="#f00" stroke-width="2.3" stroke-dasharray="3.913 2.002"/>
<text x="157.692" y="1432.513" class="lg" style="font-size:9.646px" textLength="94.185" lengthAdjust="spacingAndGlyphs">Asymmetry Plot (with C.I.)</text>
</g>
<g id="b10">
<line x1="415" y1="1180.7" x2="415" y2="1435" stroke="#aaa" stroke-width="1.3"/>
<line x1="415" y1="1435" x2="739.3" y2="1435" stroke="#444" stroke-width="1.3"/>
<line x1="440.9" y1="1185.9" x2="440.9" y2="1374.7" stroke="#787878" stroke-width="1.4"/>
<line x1="437.5" y1="1370.5" x2="738.1" y2="1370.5" stroke="#787878" stroke-width="1.6"/>
<line x1="437.5" y1="1186.5" x2="440.9" y2="1186.5" stroke="#444444" stroke-width="1.4"/>
<text transform="translate(434 1188.05) scale(0.88 1)" class="yl" style="font-size:10.071px"><tspan class="lf">.</tspan>003</text>
<line x1="437.5" y1="1209.5" x2="440.9" y2="1209.5" stroke="#444444" stroke-width="1.4"/>
<text transform="translate(434 1211.05) scale(0.88 1)" class="yl" style="font-size:10.071px"><tspan class="lf">.</tspan>002</text>
<line x1="437.5" y1="1232.5" x2="440.9" y2="1232.5" stroke="#444444" stroke-width="1.4"/>
<text transform="translate(434 1234.05) scale(0.88 1)" class="yl" style="font-size:10.071px"><tspan class="lf">.</tspan>001</text>
<line x1="437.5" y1="1255.5" x2="440.9" y2="1255.5" stroke="#444444" stroke-width="1.4"/>
<text transform="translate(434 1257.05) scale(0.88 1)" class="yl" style="font-size:10.071px"><tspan class="lf">.</tspan>000</text>
<line x1="437.5" y1="1278.5" x2="440.9" y2="1278.5" stroke="#444444" stroke-width="1.4"/>
<text transform="translate(434 1280.05) scale(0.88 1)" class="yl" style="font-size:10.071px"><tspan class="lf">-.</tspan>001</text>
<line x1="437.5" y1="1301.5" x2="440.9" y2="1301.5" stroke="#444444" stroke-width="1.4"/>
<text transform="translate(434 1303.05) scale(0.88 1)" class="yl" style="font-size:10.071px"><tspan class="lf">-.</tspan>002</text>
<line x1="437.5" y1="1324.5" x2="440.9" y2="1324.5" stroke="#444444" stroke-width="1.4"/>
<text transform="translate(434 1326.05) scale(0.88 1)" class="yl" style="font-size:10.071px"><tspan class="lf">-.</tspan>003</text>
<line x1="437.5" y1="1347.5" x2="440.9" y2="1347.5" stroke="#444444" stroke-width="1.4"/>
<text transform="translate(434 1349.05) scale(0.88 1)" class="yl" style="font-size:10.071px"><tspan class="lf">-.</tspan>004</text>
<line x1="437.5" y1="1370.5" x2="440.9" y2="1370.5" stroke="#444444" stroke-width="1.4"/>
<text transform="translate(434 1372.05) scale(0.88 1)" class="yl" style="font-size:10.071px"><tspan class="lf">-.</tspan>005</text>
<line x1="440.9" y1="1370.5" x2="440.9" y2="1374.7" stroke="#444444" stroke-width="1.4"/>
<line x1="460.673" y1="1370.5" x2="460.673" y2="1374.7" stroke="#444444" stroke-width="1.4"/>
<line x1="480.447" y1="1370.5" x2="480.447" y2="1374.7" stroke="#444444" stroke-width="1.4"/>
<line x1="500.22" y1="1370.5" x2="500.22" y2="1374.7" stroke="#444444" stroke-width="1.4"/>
<line x1="519.993" y1="1370.5" x2="519.993" y2="1374.7" stroke="#444444" stroke-width="1.4"/>
<line x1="539.767" y1="1370.5" x2="539.767" y2="1374.7" stroke="#444444" stroke-width="1.4"/>
<line x1="559.54" y1="1370.5" x2="559.54" y2="1374.7" stroke="#444444" stroke-width="1.4"/>
<line x1="579.313" y1="1370.5" x2="579.313" y2="1374.7" stroke="#444444" stroke-width="1.4"/>
<line x1="599.087" y1="1370.5" x2="599.087" y2="1374.7" stroke="#444444" stroke-width="1.4"/>
<line x1="618.86" y1="1370.5" x2="618.86" y2="1374.7" stroke="#444444" stroke-width="1.4"/>
<line x1="638.633" y1="1370.5" x2="638.633" y2="1374.7" stroke="#444444" stroke-width="1.4"/>
<line x1="658.407" y1="1370.5" x2="658.407" y2="1374.7" stroke="#444444" stroke-width="1.4"/>
<line x1="678.18" y1="1370.5" x2="678.18" y2="1374.7" stroke="#444444" stroke-width="1.4"/>
<line x1="697.953" y1="1370.5" x2="697.953" y2="1374.7" stroke="#444444" stroke-width="1.4"/>
<line x1="717.727" y1="1370.5" x2="717.727" y2="1374.7" stroke="#444444" stroke-width="1.4"/>
<line x1="737.5" y1="1370.5" x2="737.5" y2="1374.7" stroke="#444444" stroke-width="1.4"/>
<text transform="translate(450.787 1383.8) scale(0.93 1)" class="xl" style="font-size:10.071px">1</text>
<text transform="translate(490.333 1383.8) scale(0.93 1)" class="xl" style="font-size:10.071px">3</text>
<text transform="translate(529.88 1383.8) scale(0.93 1)" class="xl" style="font-size:10.071px">5</text>
<text transform="translate(569.427 1383.8) scale(0.93 1)" class="xl" style="font-size:10.071px">7</text>
<text transform="translate(608.973 1383.8) scale(0.93 1)" class="xl" style="font-size:10.071px">9</text>
<text transform="translate(648.52 1383.8) scale(0.93 1)" class="xl" style="font-size:10.071px">11</text>
<text transform="translate(688.067 1383.8) scale(0.93 1)" class="xl" style="font-size:10.071px">13</text>
<text transform="translate(727.613 1383.8) scale(0.93 1)" class="xl" style="font-size:10.071px">15</text>
<line x1="437.5" y1="1255.5" x2="737.5" y2="1255.5" stroke="#555555" stroke-width="1.2"/>
<polyline points="450.787,1255.5 470.56,1193.3 490.333,1200 510.107,1199.3 529.88,1199.3 549.653,1199.3 569.427,1199.3 589.2,1199.3 608.973,1199.3 628.747,1199.3 648.52,1199.3 668.293,1199.3 688.067,1199.3 707.84,1199.3 727.613,1199.3" stroke="#ff2a2a" stroke-width="0.91" fill="none" stroke-dasharray="2.36 1.09"/>
<polyline points="450.787,1255.5 470.56,1363.3 490.333,1351 510.107,1352.3 529.88,1352.3 549.653,1352.3 569.427,1352.3 589.2,1352.3 608.973,1352.3 628.747,1352.3 648.52,1352.3 668.293,1352.3 688.067,1352.3 707.84,1352.3 727.613,1352.3" stroke="#ff2a2a" stroke-width="0.91" fill="none" stroke-dasharray="2.36 1.09"/>
<polyline points="450.787,1255.5 470.56,1241 490.333,1242.7 510.107,1242.7 529.88,1242.7 549.653,1242.7 569.427,1242.7 589.2,1242.7 608.973,1242.7 628.747,1242.7 648.52,1242.7 668.293,1242.7 688.067,1242.7 707.84,1242.7 727.613,1242.7" stroke="#000" stroke-width="2.36" fill="none"/>
<polyline points="450.787,1255.5 470.56,1300 490.333,1294.3 510.107,1295.3 529.88,1295.3 549.653,1295.3 569.427,1295.3 589.2,1295.3 608.973,1295.3 628.747,1295.3 648.52,1295.3 668.293,1295.3 688.067,1295.3 707.84,1295.3 727.613,1295.3" stroke="#000" stroke-width="2.27" fill="none" stroke-dasharray="13.59 1.72"/>
<polyline points="450.787,1255.5 470.56,1279 490.333,1276 510.107,1276 529.88,1276 549.653,1276 569.427,1276 589.2,1276 608.973,1276 628.747,1276 648.52,1276 668.293,1276 688.067,1276 707.84,1276 727.613,1276" stroke="#f00" stroke-width="2.36" fill="none" stroke-dasharray="4.53 1.45"/>
<rect x="525.7" y="1397.3" width="127" height="36.7" fill="#fff" stroke="#222" stroke-width="1.2"/>
<line x1="529.554" y1="1404.823" x2="551.574" y2="1404.823" stroke="#000" stroke-width="2.2"/>
<text x="554.326" y="1406.75" class="lg" style="font-size:9.726px" textLength="73.958" lengthAdjust="spacingAndGlyphs">Multiplier for CND(+)</text>
<line x1="529.554" y1="1415.87" x2="551.574" y2="1415.87" stroke="#000" stroke-width="2.3" stroke-dasharray="14.68 2.202 9.175"/>
<text x="554.326" y="1417.797" class="lg" style="font-size:9.726px" textLength="71.926" lengthAdjust="spacingAndGlyphs">Multiplier for CND(-)</text>
<line x1="529.554" y1="1426.843" x2="551.574" y2="1426.843" stroke="#f00" stroke-width="2.3" stroke-dasharray="3.945 2.019"/>
<text x="554.326" y="1428.77" class="lg" style="font-size:9.726px" textLength="93.511" lengthAdjust="spacingAndGlyphs">Asymmetry Plot (with C.I.)</text>
</g>
<g id="c10">
<line x1="803.3" y1="1180" x2="1141.7" y2="1180" stroke="#aaa" stroke-width="1.3"/>
<line x1="803.3" y1="1180" x2="803.3" y2="1432" stroke="#ccc" stroke-width="1.3"/>
<line x1="1141.7" y1="1180" x2="1141.7" y2="1432" stroke="#ccc" stroke-width="1.3"/>
<line x1="803.3" y1="1432" x2="1141.7" y2="1432" stroke="#999" stroke-width="1.3"/>
<line x1="834.4" y1="1186.8" x2="834.4" y2="1373.5" stroke="#787878" stroke-width="1.4"/>
<line x1="831" y1="1369.3" x2="1140.1" y2="1369.3" stroke="#787878" stroke-width="1.6"/>
<line x1="831" y1="1187.4" x2="834.4" y2="1187.4" stroke="#444444" stroke-width="1.4"/>
<text transform="translate(827.9 1188.875) scale(0.88 1)" class="yl" style="font-size:9.858px"><tspan class="lf">.</tspan>0020</text>
<line x1="831" y1="1217.717" x2="834.4" y2="1217.717" stroke="#444444" stroke-width="1.4"/>
<text transform="translate(827.9 1219.192) scale(0.88 1)" class="yl" style="font-size:9.858px"><tspan class="lf">.</tspan>0016</text>
<line x1="831" y1="1248.033" x2="834.4" y2="1248.033" stroke="#444444" stroke-width="1.4"/>
<text transform="translate(827.9 1249.508) scale(0.88 1)" class="yl" style="font-size:9.858px"><tspan class="lf">.</tspan>0012</text>
<line x1="831" y1="1278.35" x2="834.4" y2="1278.35" stroke="#444444" stroke-width="1.4"/>
<text transform="translate(827.9 1279.825) scale(0.88 1)" class="yl" style="font-size:9.858px"><tspan class="lf">.</tspan>0008</text>
<line x1="831" y1="1308.667" x2="834.4" y2="1308.667" stroke="#444444" stroke-width="1.4"/>
<text transform="translate(827.9 1310.142) scale(0.88 1)" class="yl" style="font-size:9.858px"><tspan class="lf">.</tspan>0004</text>
<line x1="831" y1="1338.983" x2="834.4" y2="1338.983" stroke="#444444" stroke-width="1.4"/>
<text transform="translate(827.9 1340.458) scale(0.88 1)" class="yl" style="font-size:9.858px"><tspan class="lf">.</tspan>0000</text>
<line x1="831" y1="1369.3" x2="834.4" y2="1369.3" stroke="#444444" stroke-width="1.4"/>
<text transform="translate(827.9 1370.775) scale(0.88 1)" class="yl" style="font-size:9.858px"><tspan class="lf">-.</tspan>0004</text>
<line x1="834.4" y1="1369.3" x2="834.4" y2="1373.5" stroke="#444444" stroke-width="1.4"/>
<line x1="854.74" y1="1369.3" x2="854.74" y2="1373.5" stroke="#444444" stroke-width="1.4"/>
<line x1="875.08" y1="1369.3" x2="875.08" y2="1373.5" stroke="#444444" stroke-width="1.4"/>
<line x1="895.42" y1="1369.3" x2="895.42" y2="1373.5" stroke="#444444" stroke-width="1.4"/>
<line x1="915.76" y1="1369.3" x2="915.76" y2="1373.5" stroke="#444444" stroke-width="1.4"/>
<line x1="936.1" y1="1369.3" x2="936.1" y2="1373.5" stroke="#444444" stroke-width="1.4"/>
<line x1="956.44" y1="1369.3" x2="956.44" y2="1373.5" stroke="#444444" stroke-width="1.4"/>
<line x1="976.78" y1="1369.3" x2="976.78" y2="1373.5" stroke="#444444" stroke-width="1.4"/>
<line x1="997.12" y1="1369.3" x2="997.12" y2="1373.5" stroke="#444444" stroke-width="1.4"/>
<line x1="1017.46" y1="1369.3" x2="1017.46" y2="1373.5" stroke="#444444" stroke-width="1.4"/>
<line x1="1037.8" y1="1369.3" x2="1037.8" y2="1373.5" stroke="#444444" stroke-width="1.4"/>
<line x1="1058.14" y1="1369.3" x2="1058.14" y2="1373.5" stroke="#444444" stroke-width="1.4"/>
<line x1="1078.48" y1="1369.3" x2="1078.48" y2="1373.5" stroke="#444444" stroke-width="1.4"/>
<line x1="1098.82" y1="1369.3" x2="1098.82" y2="1373.5" stroke="#444444" stroke-width="1.4"/>
<line x1="1119.16" y1="1369.3" x2="1119.16" y2="1373.5" stroke="#444444" stroke-width="1.4"/>
<line x1="1139.5" y1="1369.3" x2="1139.5" y2="1373.5" stroke="#444444" stroke-width="1.4"/>
<text transform="translate(844.57 1382.7) scale(0.93 1)" class="xl" style="font-size:9.858px">1</text>
<text transform="translate(885.25 1382.7) scale(0.93 1)" class="xl" style="font-size:9.858px">3</text>
<text transform="translate(925.93 1382.7) scale(0.93 1)" class="xl" style="font-size:9.858px">5</text>
<text transform="translate(966.61 1382.7) scale(0.93 1)" class="xl" style="font-size:9.858px">7</text>
<text transform="translate(1007.29 1382.7) scale(0.93 1)" class="xl" style="font-size:9.858px">9</text>
<text transform="translate(1047.97 1382.7) scale(0.93 1)" class="xl" style="font-size:9.858px">11</text>
<text transform="translate(1088.65 1382.7) scale(0.93 1)" class="xl" style="font-size:9.858px">13</text>
<text transform="translate(1129.33 1382.7) scale(0.93 1)" class="xl" style="font-size:9.858px">15</text>
<line x1="831" y1="1338.983" x2="1139.5" y2="1338.983" stroke="#555555" stroke-width="1.2"/>
<polyline points="844.57,1338.983 864.91,1205 885.25,1332.7 905.59,1330.7 925.93,1329.5 946.27,1329.5 966.61,1329.5 986.95,1329.5 1007.29,1329.5 1027.63,1329.5 1047.97,1329.5 1068.31,1329.5 1088.65,1329.5 1108.99,1329.5 1129.33,1329.5" stroke="#ff2a2a" stroke-width="0.89" fill="none" stroke-dasharray="2.31 1.07"/>
<polyline points="844.57,1338.983 864.91,1327.3 885.25,1366.7 905.59,1352.7 925.93,1354 946.27,1354 966.61,1354 986.95,1354 1007.29,1354 1027.63,1354 1047.97,1354 1068.31,1354 1088.65,1354 1108.99,1354 1129.33,1354" stroke="#ff2a2a" stroke-width="0.89" fill="none" stroke-dasharray="2.31 1.07"/>
<polyline points="844.57,1338.983 864.91,1277.7 885.25,1359 905.59,1350 925.93,1352 946.27,1351.3 966.61,1351.3 986.95,1351.3 1007.29,1351.3 1027.63,1351.3 1047.97,1351.3 1068.31,1351.3 1088.65,1351.3 1108.99,1351.3 1129.33,1351.3" stroke="#000" stroke-width="2.31" fill="none"/>
<polyline points="844.57,1338.983 864.91,1327.3 885.25,1329.3 905.59,1329.3 925.93,1329.3 946.27,1329.3 966.61,1329.3 986.95,1329.3 1007.29,1329.3 1027.63,1329.3 1047.97,1329.3 1068.31,1329.3 1088.65,1329.3 1108.99,1329.3 1129.33,1329.3" stroke="#000" stroke-width="2.22" fill="none" stroke-dasharray="13.33 1.69"/>
<polyline points="844.57,1338.983 864.91,1266.7 885.25,1350 905.59,1340 925.93,1341.7 946.27,1341.7 966.61,1341.7 986.95,1341.7 1007.29,1341.7 1027.63,1341.7 1047.97,1341.7 1068.31,1341.7 1088.65,1341.7 1108.99,1341.7 1129.33,1341.7" stroke="#f00" stroke-width="2.31" fill="none" stroke-dasharray="4.44 1.42"/>
<rect x="921.7" y="1396" width="130" height="36" fill="#fff" stroke="#222" stroke-width="1.2"/>
<line x1="925.48" y1="1403.38" x2="947.08" y2="1403.38" stroke="#000" stroke-width="2.2"/>
<text x="949.78" y="1405.27" class="lg" style="font-size:9.54px" textLength="66.565" lengthAdjust="spacingAndGlyphs">Multiplier for SI(+)</text>
<line x1="925.48" y1="1414.216" x2="947.08" y2="1414.216" stroke="#000" stroke-width="2.3" stroke-dasharray="14.4 2.16 9"/>
<text x="949.78" y="1416.106" class="lg" style="font-size:9.54px" textLength="64.454" lengthAdjust="spacingAndGlyphs">Multiplier for SI(-)</text>
<line x1="925.48" y1="1424.98" x2="947.08" y2="1424.98" stroke="#f00" stroke-width="2.3" stroke-dasharray="3.87 1.98"/>
<text x="949.78" y="1426.87" class="lg" style="font-size:9.54px" textLength="97.15" lengthAdjust="spacingAndGlyphs">Asymmetry Plot (with C.I.)</text>
</g>
<g id="a11">
<line x1="28" y1="1542.7" x2="340.7" y2="1542.7" stroke="#ccc" stroke-width="1.3"/>
<line x1="28" y1="1542.7" x2="28" y2="1786.7" stroke="#bbb" stroke-width="1.3"/>
<line x1="340.7" y1="1542.7" x2="340.7" y2="1786.7" stroke="#eee" stroke-width="1.3"/>
<line x1="28" y1="1786.7" x2="340.7" y2="1786.7" stroke="#ccc" stroke-width="1.3"/>
<line x1="44" y1="1549.2" x2="44" y2="1729.8" stroke="#787878" stroke-width="1.4"/>
<line x1="40.6" y1="1725.6" x2="339.3" y2="1725.6" stroke="#787878" stroke-width="1.6"/>
<line x1="40.6" y1="1549.8" x2="44" y2="1549.8" stroke="#444444" stroke-width="1.4"/>
<text transform="translate(37.9 1551.35) scale(0.88 1)" class="yl" style="font-size:10.071px"><tspan class="lf">.</tspan>3</text>
<line x1="40.6" y1="1584.96" x2="44" y2="1584.96" stroke="#444444" stroke-width="1.4"/>
<text transform="translate(37.9 1586.51) scale(0.88 1)" class="yl" style="font-size:10.071px"><tspan class="lf">.</tspan>2</text>
<line x1="40.6" y1="1620.12" x2="44" y2="1620.12" stroke="#444444" stroke-width="1.4"/>
<text transform="translate(37.9 1621.67) scale(0.88 1)" class="yl" style="font-size:10.071px"><tspan class="lf">.</tspan>1</text>
<line x1="40.6" y1="1655.28" x2="44" y2="1655.28" stroke="#444444" stroke-width="1.4"/>
<text transform="translate(37.9 1656.83) scale(0.88 1)" class="yl" style="font-size:10.071px"><tspan class="lf">.</tspan>0</text>
<line x1="40.6" y1="1690.44" x2="44" y2="1690.44" stroke="#444444" stroke-width="1.4"/>
<text transform="translate(37.9 1691.99) scale(0.88 1)" class="yl" style="font-size:10.071px"><tspan class="lf">-.</tspan>1</text>
<line x1="40.6" y1="1725.6" x2="44" y2="1725.6" stroke="#444444" stroke-width="1.4"/>
<text transform="translate(37.9 1727.15) scale(0.88 1)" class="yl" style="font-size:10.071px"><tspan class="lf">-.</tspan>2</text>
<line x1="44" y1="1725.6" x2="44" y2="1729.8" stroke="#444444" stroke-width="1.4"/>
<line x1="63.647" y1="1725.6" x2="63.647" y2="1729.8" stroke="#444444" stroke-width="1.4"/>
<line x1="83.293" y1="1725.6" x2="83.293" y2="1729.8" stroke="#444444" stroke-width="1.4"/>
<line x1="102.94" y1="1725.6" x2="102.94" y2="1729.8" stroke="#444444" stroke-width="1.4"/>
<line x1="122.587" y1="1725.6" x2="122.587" y2="1729.8" stroke="#444444" stroke-width="1.4"/>
<line x1="142.233" y1="1725.6" x2="142.233" y2="1729.8" stroke="#444444" stroke-width="1.4"/>
<line x1="161.88" y1="1725.6" x2="161.88" y2="1729.8" stroke="#444444" stroke-width="1.4"/>
<line x1="181.527" y1="1725.6" x2="181.527" y2="1729.8" stroke="#444444" stroke-width="1.4"/>
<line x1="201.173" y1="1725.6" x2="201.173" y2="1729.8" stroke="#444444" stroke-width="1.4"/>
<line x1="220.82" y1="1725.6" x2="220.82" y2="1729.8" stroke="#444444" stroke-width="1.4"/>
<line x1="240.467" y1="1725.6" x2="240.467" y2="1729.8" stroke="#444444" stroke-width="1.4"/>
<line x1="260.113" y1="1725.6" x2="260.113" y2="1729.8" stroke="#444444" stroke-width="1.4"/>
<line x1="279.76" y1="1725.6" x2="279.76" y2="1729.8" stroke="#444444" stroke-width="1.4"/>
<line x1="299.407" y1="1725.6" x2="299.407" y2="1729.8" stroke="#444444" stroke-width="1.4"/>
<line x1="319.053" y1="1725.6" x2="319.053" y2="1729.8" stroke="#444444" stroke-width="1.4"/>
<line x1="338.7" y1="1725.6" x2="338.7" y2="1729.8" stroke="#444444" stroke-width="1.4"/>
<text transform="translate(53.823 1738.7) scale(0.93 1)" class="xl" style="font-size:10.071px">1</text>
<text transform="translate(93.117 1738.7) scale(0.93 1)" class="xl" style="font-size:10.071px">3</text>
<text transform="translate(132.41 1738.7) scale(0.93 1)" class="xl" style="font-size:10.071px">5</text>
<text transform="translate(171.703 1738.7) scale(0.93 1)" class="xl" style="font-size:10.071px">7</text>
<text transform="translate(210.997 1738.7) scale(0.93 1)" class="xl" style="font-size:10.071px">9</text>
<text transform="translate(250.29 1738.7) scale(0.93 1)" class="xl" style="font-size:10.071px">11</text>
<text transform="translate(289.583 1738.7) scale(0.93 1)" class="xl" style="font-size:10.071px">13</text>
<text transform="translate(328.877 1738.7) scale(0.93 1)" class="xl" style="font-size:10.071px">15</text>
<line x1="40.6" y1="1655.28" x2="338.7" y2="1655.28" stroke="#555555" stroke-width="1.2"/>
<polyline points="53.823,1655.28 73.47,1608.3 93.117,1654.3 112.763,1654.3 132.41,1654.3 152.057,1654.3 171.703,1654.3 191.35,1654.3 210.997,1654.3 230.643,1654.3 250.29,1654.3 269.937,1654.3 289.583,1654.3 309.23,1654.3 328.877,1654.3" stroke="#ff2a2a" stroke-width="0.85" fill="none" stroke-dasharray="2.20 1.02"/>
<polyline points="53.823,1655.28 73.47,1657.3 93.117,1664 112.763,1657.5 132.41,1657.5 152.057,1657.5 171.703,1657.5 191.35,1657.5 210.997,1657.5 230.643,1657.5 250.29,1657.5 269.937,1657.5 289.583,1657.5 309.23,1657.5 328.877,1657.5" stroke="#ff2a2a" stroke-width="0.85" fill="none" stroke-dasharray="2.20 1.02"/>
<polyline points="53.823,1655.28 73.47,1706 93.117,1721 112.763,1719.3 132.41,1720 152.057,1720 171.703,1720 191.35,1720 210.997,1720 230.643,1720 250.29,1720 269.937,1720 289.583,1720 309.23,1720 328.877,1720" stroke="#000" stroke-width="2.20" fill="none"/>
<polyline points="53.823,1655.28 73.47,1584.3 93.117,1592.3 112.763,1591.7 132.41,1591.7 152.057,1591.7 171.703,1591.7 191.35,1591.7 210.997,1591.7 230.643,1591.7 250.29,1591.7 269.937,1591.7 289.583,1591.7 309.23,1591.7 328.877,1591.7" stroke="#000" stroke-width="2.12" fill="none" stroke-dasharray="12.70 1.61"/>
<polyline points="53.823,1655.28 73.47,1633.3 93.117,1658 112.763,1655 132.41,1656 152.057,1656 171.703,1656 191.35,1656 210.997,1656 230.643,1656 250.29,1656 269.937,1656 289.583,1656 309.23,1656 328.877,1656" stroke="#f00" stroke-width="2.20" fill="none" stroke-dasharray="4.23 1.36"/>
<rect x="128.7" y="1751.7" width="125.3" height="34.3" fill="#fff" stroke="#222" stroke-width="1.2"/>
<line x1="132.301" y1="1758.732" x2="152.881" y2="1758.732" stroke="#000" stroke-width="2.2"/>
<text x="155.454" y="1760.532" class="lg" style="font-size:9.089px" textLength="69.834" lengthAdjust="spacingAndGlyphs">Multiplier for VIX(+)</text>
<line x1="132.301" y1="1769.056" x2="152.881" y2="1769.056" stroke="#000" stroke-width="2.3" stroke-dasharray="13.72 2.058 8.575"/>
<text x="155.454" y="1770.857" class="lg" style="font-size:9.089px" textLength="67.791" lengthAdjust="spacingAndGlyphs">Multiplier for VIX(-)</text>
<line x1="132.301" y1="1779.312" x2="152.881" y2="1779.312" stroke="#f00" stroke-width="2.3" stroke-dasharray="3.687 1.886"/>
<text x="155.454" y="1781.112" class="lg" style="font-size:9.089px" textLength="94.001" lengthAdjust="spacingAndGlyphs">Asymmetry Plot (with C.I.)</text>
</g>
<g id="b11">
<line x1="417.3" y1="1542.7" x2="737.7" y2="1542.7" stroke="#f2f2f2" stroke-width="1.3"/>
<line x1="417.3" y1="1542.7" x2="417.3" y2="1786" stroke="#ccc" stroke-width="1.3"/>
<line x1="737.7" y1="1542.7" x2="737.7" y2="1786" stroke="#555" stroke-width="1.3"/>
<line x1="417.3" y1="1786" x2="737.7" y2="1786" stroke="#555" stroke-width="1.3"/>
<line x1="442.1" y1="1548.5" x2="442.1" y2="1728.7" stroke="#787878" stroke-width="1.4"/>
<line x1="438.7" y1="1724.5" x2="736.1" y2="1724.5" stroke="#787878" stroke-width="1.6"/>
<line x1="438.7" y1="1549.1" x2="442.1" y2="1549.1" stroke="#444444" stroke-width="1.4"/>
<text transform="translate(436 1550.4) scale(0.88 1)" class="yl" style="font-size:9.362px"><tspan class="lf">.</tspan>004</text>
<line x1="438.7" y1="1578.333" x2="442.1" y2="1578.333" stroke="#444444" stroke-width="1.4"/>
<text transform="translate(436 1579.633) scale(0.88 1)" class="yl" style="font-size:9.362px"><tspan class="lf">.</tspan>002</text>
<line x1="438.7" y1="1607.567" x2="442.1" y2="1607.567" stroke="#444444" stroke-width="1.4"/>
<text transform="translate(436 1608.867) scale(0.88 1)" class="yl" style="font-size:9.362px"><tspan class="lf">.</tspan>000</text>
<line x1="438.7" y1="1636.8" x2="442.1" y2="1636.8" stroke="#444444" stroke-width="1.4"/>
<text transform="translate(436 1638.1) scale(0.88 1)" class="yl" style="font-size:9.362px"><tspan class="lf">-.</tspan>002</text>
<line x1="438.7" y1="1666.033" x2="442.1" y2="1666.033" stroke="#444444" stroke-width="1.4"/>
<text transform="translate(436 1667.333) scale(0.88 1)" class="yl" style="font-size:9.362px"><tspan class="lf">-.</tspan>004</text>
<line x1="438.7" y1="1695.267" x2="442.1" y2="1695.267" stroke="#444444" stroke-width="1.4"/>
<text transform="translate(436 1696.567) scale(0.88 1)" class="yl" style="font-size:9.362px"><tspan class="lf">-.</tspan>006</text>
<line x1="438.7" y1="1724.5" x2="442.1" y2="1724.5" stroke="#444444" stroke-width="1.4"/>
<text transform="translate(436 1725.8) scale(0.88 1)" class="yl" style="font-size:9.362px"><tspan class="lf">-.</tspan>008</text>
<line x1="442.1" y1="1724.5" x2="442.1" y2="1728.7" stroke="#444444" stroke-width="1.4"/>
<line x1="461.66" y1="1724.5" x2="461.66" y2="1728.7" stroke="#444444" stroke-width="1.4"/>
<line x1="481.22" y1="1724.5" x2="481.22" y2="1728.7" stroke="#444444" stroke-width="1.4"/>
<line x1="500.78" y1="1724.5" x2="500.78" y2="1728.7" stroke="#444444" stroke-width="1.4"/>
<line x1="520.34" y1="1724.5" x2="520.34" y2="1728.7" stroke="#444444" stroke-width="1.4"/>
<line x1="539.9" y1="1724.5" x2="539.9" y2="1728.7" stroke="#444444" stroke-width="1.4"/>
<line x1="559.46" y1="1724.5" x2="559.46" y2="1728.7" stroke="#444444" stroke-width="1.4"/>
<line x1="579.02" y1="1724.5" x2="579.02" y2="1728.7" stroke="#444444" stroke-width="1.4"/>
<line x1="598.58" y1="1724.5" x2="598.58" y2="1728.7" stroke="#444444" stroke-width="1.4"/>
<line x1="618.14" y1="1724.5" x2="618.14" y2="1728.7" stroke="#444444" stroke-width="1.4"/>
<line x1="637.7" y1="1724.5" x2="637.7" y2="1728.7" stroke="#444444" stroke-width="1.4"/>
<line x1="657.26" y1="1724.5" x2="657.26" y2="1728.7" stroke="#444444" stroke-width="1.4"/>
<line x1="676.82" y1="1724.5" x2="676.82" y2="1728.7" stroke="#444444" stroke-width="1.4"/>
<line x1="696.38" y1="1724.5" x2="696.38" y2="1728.7" stroke="#444444" stroke-width="1.4"/>
<line x1="715.94" y1="1724.5" x2="715.94" y2="1728.7" stroke="#444444" stroke-width="1.4"/>
<line x1="735.5" y1="1724.5" x2="735.5" y2="1728.7" stroke="#444444" stroke-width="1.4"/>
<text transform="translate(451.88 1737) scale(0.93 1)" class="xl" style="font-size:9.362px">1</text>
<text transform="translate(491 1737) scale(0.93 1)" class="xl" style="font-size:9.362px">3</text>
<text transform="translate(530.12 1737) scale(0.93 1)" class="xl" style="font-size:9.362px">5</text>
<text transform="translate(569.24 1737) scale(0.93 1)" class="xl" style="font-size:9.362px">7</text>
<text transform="translate(608.36 1737) scale(0.93 1)" class="xl" style="font-size:9.362px">9</text>
<text transform="translate(647.48 1737) scale(0.93 1)" class="xl" style="font-size:9.362px">11</text>
<text transform="translate(686.6 1737) scale(0.93 1)" class="xl" style="font-size:9.362px">13</text>
<text transform="translate(725.72 1737) scale(0.93 1)" class="xl" style="font-size:9.362px">15</text>
<line x1="438.7" y1="1607.567" x2="735.5" y2="1607.567" stroke="#555555" stroke-width="1.2"/>
<polyline points="451.88,1607.567 471.44,1584 491,1586.7 510.56,1586.7 530.12,1586.7 549.68,1586.7 569.24,1586.7 588.8,1586.7 608.36,1586.7 627.92,1586.7 647.48,1586.7 667.04,1586.7 686.6,1586.7 706.16,1586.7 725.72,1586.7" stroke="#ff2a2a" stroke-width="0.87" fill="none" stroke-dasharray="2.27 1.05"/>
<polyline points="451.88,1607.567 471.44,1697.3 491,1686 510.56,1687.7 530.12,1687.7 549.68,1687.7 569.24,1687.7 588.8,1687.7 608.36,1687.7 627.92,1687.7 647.48,1687.7 667.04,1687.7 686.6,1687.7 706.16,1687.7 725.72,1687.7" stroke="#ff2a2a" stroke-width="0.87" fill="none" stroke-dasharray="2.27 1.05"/>
<polyline points="451.88,1607.567 471.44,1689 491,1678.3 510.56,1679.3 530.12,1679.3 549.68,1679.3 569.24,1679.3 588.8,1679.3 608.36,1679.3 627.92,1679.3 647.48,1679.3 667.04,1679.3 686.6,1679.3 706.16,1679.3 725.72,1679.3" stroke="#000" stroke-width="2.27" fill="none"/>
<polyline points="451.88,1607.567 471.44,1558.3 491,1564 510.56,1563.3 530.12,1563.3 549.68,1563.3 569.24,1563.3 588.8,1563.3 608.36,1563.3 627.92,1563.3 647.48,1563.3 667.04,1563.3 686.6,1563.3 706.16,1563.3 725.72,1563.3" stroke="#000" stroke-width="2.18" fill="none" stroke-dasharray="13.07 1.66"/>
<polyline points="451.88,1607.567 471.44,1640.7 491,1636.7 510.56,1637 530.12,1637 549.68,1637 569.24,1637 588.8,1637 608.36,1637 627.92,1637 647.48,1637 667.04,1637 686.6,1637 706.16,1637 725.72,1637" stroke="#f00" stroke-width="2.27" fill="none" stroke-dasharray="4.36 1.39"/>
<rect x="526" y="1750" width="126.3" height="35.3" fill="#fff" stroke="#222" stroke-width="1.2"/>
<line x1="529.707" y1="1757.236" x2="550.886" y2="1757.236" stroke="#000" stroke-width="2.2"/>
<text x="553.534" y="1759.09" class="lg" style="font-size:9.354px" textLength="74.415" lengthAdjust="spacingAndGlyphs">Multiplier for CND(+)</text>
<line x1="529.707" y1="1767.862" x2="550.886" y2="1767.862" stroke="#000" stroke-width="2.3" stroke-dasharray="14.12 2.118 8.825"/>
<text x="553.534" y="1769.715" class="lg" style="font-size:9.354px" textLength="72.37" lengthAdjust="spacingAndGlyphs">Multiplier for CND(-)</text>
<line x1="529.707" y1="1778.417" x2="550.886" y2="1778.417" stroke="#f00" stroke-width="2.3" stroke-dasharray="3.795 1.941"/>
<text x="553.534" y="1780.27" class="lg" style="font-size:9.354px" textLength="94.089" lengthAdjust="spacingAndGlyphs">Asymmetry Plot (with C.I.)</text>
</g>
<g id="c11">
<line x1="806.7" y1="1542.7" x2="1139" y2="1542.7" stroke="#ccc" stroke-width="1.3"/>
<line x1="806.7" y1="1542.7" x2="806.7" y2="1791" stroke="#bbb" stroke-width="1.3"/>
<line x1="1139" y1="1542.7" x2="1139" y2="1791" stroke="#eee" stroke-width="1.3"/>
<line x1="806.7" y1="1791" x2="1139" y2="1791" stroke="#ccc" stroke-width="1.3"/>
<line x1="837.1" y1="1549.1" x2="837.1" y2="1733.7" stroke="#787878" stroke-width="1.4"/>
<line x1="833.7" y1="1729.5" x2="1136.9" y2="1729.5" stroke="#787878" stroke-width="1.6"/>
<line x1="833.7" y1="1549.7" x2="837.1" y2="1549.7" stroke="#444444" stroke-width="1.4"/>
<text transform="translate(830.2 1551.25) scale(0.88 1)" class="yl" style="font-size:10.071px"><tspan class="lf">.</tspan>0012</text>
<line x1="833.7" y1="1585.66" x2="837.1" y2="1585.66" stroke="#444444" stroke-width="1.4"/>
<text transform="translate(830.2 1587.21) scale(0.88 1)" class="yl" style="font-size:10.071px"><tspan class="lf">.</tspan>0008</text>
<line x1="833.7" y1="1621.62" x2="837.1" y2="1621.62" stroke="#444444" stroke-width="1.4"/>
<text transform="translate(830.2 1623.17) scale(0.88 1)" class="yl" style="font-size:10.071px"><tspan class="lf">.</tspan>0004</text>
<line x1="833.7" y1="1657.58" x2="837.1" y2="1657.58" stroke="#444444" stroke-width="1.4"/>
<text transform="translate(830.2 1659.13) scale(0.88 1)" class="yl" style="font-size:10.071px"><tspan class="lf">.</tspan>0000</text>
<line x1="833.7" y1="1693.54" x2="837.1" y2="1693.54" stroke="#444444" stroke-width="1.4"/>
<text transform="translate(830.2 1695.09) scale(0.88 1)" class="yl" style="font-size:10.071px"><tspan class="lf">-.</tspan>0004</text>
<line x1="833.7" y1="1729.5" x2="837.1" y2="1729.5" stroke="#444444" stroke-width="1.4"/>
<text transform="translate(830.2 1731.05) scale(0.88 1)" class="yl" style="font-size:10.071px"><tspan class="lf">-.</tspan>0008</text>
<line x1="837.1" y1="1729.5" x2="837.1" y2="1733.7" stroke="#444444" stroke-width="1.4"/>
<line x1="857.047" y1="1729.5" x2="857.047" y2="1733.7" stroke="#444444" stroke-width="1.4"/>
<line x1="876.993" y1="1729.5" x2="876.993" y2="1733.7" stroke="#444444" stroke-width="1.4"/>
<line x1="896.94" y1="1729.5" x2="896.94" y2="1733.7" stroke="#444444" stroke-width="1.4"/>
<line x1="916.887" y1="1729.5" x2="916.887" y2="1733.7" stroke="#444444" stroke-width="1.4"/>
<line x1="936.833" y1="1729.5" x2="936.833" y2="1733.7" stroke="#444444" stroke-width="1.4"/>
<line x1="956.78" y1="1729.5" x2="956.78" y2="1733.7" stroke="#444444" stroke-width="1.4"/>
<line x1="976.727" y1="1729.5" x2="976.727" y2="1733.7" stroke="#444444" stroke-width="1.4"/>
<line x1="996.673" y1="1729.5" x2="996.673" y2="1733.7" stroke="#444444" stroke-width="1.4"/>
<line x1="1016.62" y1="1729.5" x2="1016.62" y2="1733.7" stroke="#444444" stroke-width="1.4"/>
<line x1="1036.567" y1="1729.5" x2="1036.567" y2="1733.7" stroke="#444444" stroke-width="1.4"/>
<line x1="1056.513" y1="1729.5" x2="1056.513" y2="1733.7" stroke="#444444" stroke-width="1.4"/>
<line x1="1076.46" y1="1729.5" x2="1076.46" y2="1733.7" stroke="#444444" stroke-width="1.4"/>
<line x1="1096.407" y1="1729.5" x2="1096.407" y2="1733.7" stroke="#444444" stroke-width="1.4"/>
<line x1="1116.353" y1="1729.5" x2="1116.353" y2="1733.7" stroke="#444444" stroke-width="1.4"/>
<line x1="1136.3" y1="1729.5" x2="1136.3" y2="1733.7" stroke="#444444" stroke-width="1.4"/>
<text transform="translate(847.073 1741.7) scale(0.93 1)" class="xl" style="font-size:10.071px">1</text>
<text transform="translate(886.967 1741.7) scale(0.93 1)" class="xl" style="font-size:10.071px">3</text>
<text transform="translate(926.86 1741.7) scale(0.93 1)" class="xl" style="font-size:10.071px">5</text>
<text transform="translate(966.753 1741.7) scale(0.93 1)" class="xl" style="font-size:10.071px">7</text>
<text transform="translate(1006.647 1741.7) scale(0.93 1)" class="xl" style="font-size:10.071px">9</text>
<text transform="translate(1046.54 1741.7) scale(0.93 1)" class="xl" style="font-size:10.071px">11</text>
<text transform="translate(1086.433 1741.7) scale(0.93 1)" class="xl" style="font-size:10.071px">13</text>
<text transform="translate(1126.327 1741.7) scale(0.93 1)" class="xl" style="font-size:10.071px">15</text>
<line x1="833.7" y1="1657.58" x2="1136.3" y2="1657.58" stroke="#555555" stroke-width="1.2"/>
<polyline points="847.073,1657.58 867.02,1606 886.967,1613.3 906.913,1612.3 926.86,1612.3 946.807,1612.3 966.753,1612.3 986.7,1612.3 1006.647,1612.3 1026.593,1612.3 1046.54,1612.3 1066.487,1612.3 1086.433,1612.3 1106.38,1612.3 1126.327,1612.3" stroke="#ff2a2a" stroke-width="0.88" fill="none" stroke-dasharray="2.29 1.06"/>
<polyline points="847.073,1657.58 867.02,1656.5 886.967,1656.5 906.913,1656.5 926.86,1656.5 946.807,1656.5 966.753,1656.5 986.7,1656.5 1006.647,1656.5 1026.593,1656.5 1046.54,1656.5 1066.487,1656.5 1086.433,1656.5 1106.38,1656.5 1126.327,1656.5" stroke="#ff2a2a" stroke-width="0.88" fill="none" stroke-dasharray="2.29 1.06"/>
<polyline points="847.073,1657.58 867.02,1561.7 886.967,1573.3 906.913,1572.3 926.86,1572.3 946.807,1572.3 966.753,1572.3 986.7,1572.3 1006.647,1572.3 1026.593,1572.3 1046.54,1572.3 1066.487,1572.3 1086.433,1572.3 1106.38,1572.3 1126.327,1572.3" stroke="#000" stroke-width="2.29" fill="none"/>
<polyline points="847.073,1657.58 867.02,1724 886.967,1715 906.913,1716.3 926.86,1716.3 946.807,1716.3 966.753,1716.3 986.7,1716.3 1006.647,1716.3 1026.593,1716.3 1046.54,1716.3 1066.487,1716.3 1086.433,1716.3 1106.38,1716.3 1126.327,1716.3" stroke="#000" stroke-width="2.20" fill="none" stroke-dasharray="13.22 1.67"/>
<polyline points="847.073,1657.58 867.02,1631.7 886.967,1635 906.913,1634.7 926.86,1634.7 946.807,1634.7 966.753,1634.7 986.7,1634.7 1006.647,1634.7 1026.593,1634.7 1046.54,1634.7 1066.487,1634.7 1086.433,1634.7 1106.38,1634.7 1126.327,1634.7" stroke="#f00" stroke-width="2.29" fill="none" stroke-dasharray="4.41 1.41"/>
<rect x="922.3" y="1755" width="128.4" height="35.7" fill="#fff" stroke="#222" stroke-width="1.2"/>
<line x1="926.048" y1="1762.319" x2="947.468" y2="1762.319" stroke="#000" stroke-width="2.2"/>
<text x="950.146" y="1764.193" class="lg" style="font-size:9.461px" textLength="62.429" lengthAdjust="spacingAndGlyphs">Multiplier for II(+)</text>
<line x1="926.048" y1="1773.064" x2="947.468" y2="1773.064" stroke="#000" stroke-width="2.3" stroke-dasharray="14.28 2.142 8.925"/>
<text x="950.146" y="1774.938" class="lg" style="font-size:9.461px" textLength="60.347" lengthAdjust="spacingAndGlyphs">Multiplier for II(-)</text>
<line x1="926.048" y1="1783.738" x2="947.468" y2="1783.738" stroke="#f00" stroke-width="2.3" stroke-dasharray="3.838 1.964"/>
<text x="950.146" y="1785.613" class="lg" style="font-size:9.461px" textLength="95.824" lengthAdjust="spacingAndGlyphs">Asymmetry Plot (with C.I.)</text>
</g>
<text x="189.225" y="333.25" class="cap" style="font-size:38.433px" textLength="62.32" lengthAdjust="spacingAndGlyphs">(a7)</text>
<text x="600" y="331.95" class="cap" style="font-size:39.079px" textLength="66.603" lengthAdjust="spacingAndGlyphs">(b7)</text>
<text x="1010.4" y="330.1" class="cap" style="font-size:38.801px" textLength="62.864" lengthAdjust="spacingAndGlyphs">(c7)</text>
<text x="599.125" y="383.75" class="cap" style="font-size:36.546px" textLength="128.578" lengthAdjust="spacingAndGlyphs">Model 7</text>
<text x="189.45" y="709.2" class="cap" style="font-size:38.693px" textLength="62.19" lengthAdjust="spacingAndGlyphs">(a8)</text>
<text x="600" y="714.2" class="cap" style="font-size:38.815px" textLength="64.863" lengthAdjust="spacingAndGlyphs">(b8)</text>
<text x="1010.75" y="713.2" class="cap" style="font-size:38.606px" textLength="63.649" lengthAdjust="spacingAndGlyphs">(c8)</text>
<text x="599.45" y="764.7" class="cap" style="font-size:38.306px" textLength="128.845" lengthAdjust="spacingAndGlyphs">Model 8</text>
<text x="184.425" y="1117.4" class="cap" style="font-size:37.319px" textLength="60.228" lengthAdjust="spacingAndGlyphs">(a9)</text>
<text x="578.275" y="1117.1" class="cap" style="font-size:36.477px" textLength="62.219" lengthAdjust="spacingAndGlyphs">(b9)</text>
<text x="972.525" y="1117.4" class="cap" style="font-size:37.38px" textLength="60.126" lengthAdjust="spacingAndGlyphs">(c9)</text>
<text x="578.4" y="1166.3" class="cap" style="font-size:36.448px" textLength="125.101" lengthAdjust="spacingAndGlyphs">Model 9</text>
<text x="183.5" y="1479.4" class="cap" style="font-size:37.645px" textLength="78.626" lengthAdjust="spacingAndGlyphs">(a10)</text>
<text x="578.2" y="1476.5" class="cap" style="font-size:37.581px" textLength="80.797" lengthAdjust="spacingAndGlyphs">(b10)</text>
<text x="973.2" y="1473.3" class="cap" style="font-size:37.535px" textLength="78.393" lengthAdjust="spacingAndGlyphs">(c10)</text>
<text x="577.8" y="1527.9" class="cap" style="font-size:36.195px" textLength="143.947" lengthAdjust="spacingAndGlyphs">Model 10</text>
<text x="184" y="1827.4" class="cap" style="font-size:37.927px" textLength="78.815" lengthAdjust="spacingAndGlyphs">(a11)</text>
<text x="578.15" y="1827.3" class="cap" style="font-size:37.158px" textLength="80.805" lengthAdjust="spacingAndGlyphs">(b11)</text>
<text x="973.2" y="1832.1" class="cap" style="font-size:38.067px" textLength="79.105" lengthAdjust="spacingAndGlyphs">(c11)</text>
<text x="576.35" y="1880.9" class="cap" style="font-size:35.903px" textLength="140.39" lengthAdjust="spacingAndGlyphs">Model 11</text>
</svg>
</body></html>
